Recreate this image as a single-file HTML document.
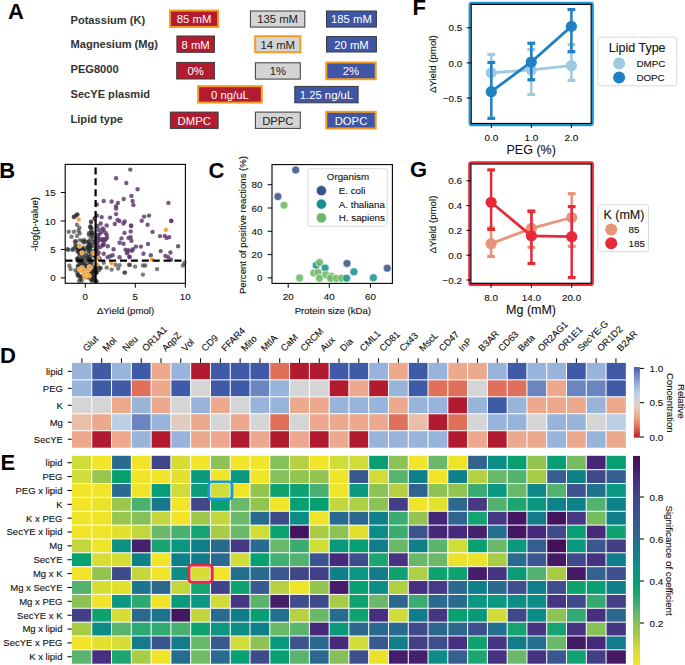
<!DOCTYPE html>
<html><head><meta charset="utf-8"><style>
html,body{margin:0;padding:0;background:#fff;width:685px;height:665px;overflow:hidden;}
svg{display:block;}
text{font-family:"Liberation Sans",sans-serif;}
</style></head><body>
<svg width="685" height="665" viewBox="0 0 685 665">
<rect width="685" height="665" fill="#fff"/>
<text x="7.90" y="18.80" font-size="22" text-anchor="start" font-weight="bold" fill="#000">A</text>
<text x="-0.70" y="177.70" font-size="22" text-anchor="start" font-weight="bold" fill="#000">B</text>
<text x="208.50" y="177.70" font-size="22" text-anchor="start" font-weight="bold" fill="#000">C</text>
<text x="0.00" y="363.30" font-size="22" text-anchor="start" font-weight="bold" fill="#000">D</text>
<text x="0.50" y="470.00" font-size="22" text-anchor="start" font-weight="bold" fill="#000">E</text>
<text x="412.50" y="15.30" font-size="22" text-anchor="start" font-weight="bold" fill="#000">F</text>
<text x="410.00" y="176.60" font-size="22" text-anchor="start" font-weight="bold" fill="#000">G</text>
<text x="70.50" y="24.20" font-size="11.1" text-anchor="start" font-weight="bold" fill="#333">Potassium (K)</text>
<text x="70.50" y="48.40" font-size="11.1" text-anchor="start" font-weight="bold" fill="#333">Magnesium (Mg)</text>
<text x="70.50" y="73.00" font-size="11.1" text-anchor="start" font-weight="bold" fill="#333">PEG8000</text>
<text x="70.50" y="97.90" font-size="11.1" text-anchor="start" font-weight="bold" fill="#333">SecYE plasmid</text>
<text x="70.50" y="123.10" font-size="11.1" text-anchor="start" font-weight="bold" fill="#333">Lipid type</text>
<rect x="170.00" y="10.60" width="48.10" height="16.40" fill="#b31b30" stroke="#f59b23" stroke-width="2"/>
<text x="194.05" y="23.20" font-size="11.3" text-anchor="middle" fill="#fff">85 mM</text>
<rect x="250.40" y="11.00" width="54.40" height="16.10" fill="#d4d4d4" stroke="#3a3a3a" stroke-width="1"/>
<text x="277.60" y="23.45" font-size="11.3" text-anchor="middle" fill="#222">135 mM</text>
<rect x="326.50" y="11.00" width="49.90" height="16.10" fill="#3f56a6" stroke="#3a3a3a" stroke-width="1"/>
<text x="351.45" y="23.45" font-size="11.3" text-anchor="middle" fill="#fff">185 mM</text>
<rect x="176.90" y="36.00" width="37.50" height="16.30" fill="#b31b30" stroke="#3a3a3a" stroke-width="1"/>
<text x="195.65" y="48.55" font-size="11.3" text-anchor="middle" fill="#fff">8 mM</text>
<rect x="255.20" y="36.20" width="45.10" height="16.00" fill="#d4d4d4" stroke="#f59b23" stroke-width="2"/>
<text x="277.75" y="48.60" font-size="11.3" text-anchor="middle" fill="#222">14 mM</text>
<rect x="326.50" y="36.60" width="49.90" height="15.40" fill="#3f56a6" stroke="#3a3a3a" stroke-width="1"/>
<text x="351.45" y="48.70" font-size="11.3" text-anchor="middle" fill="#fff">20 mM</text>
<rect x="176.70" y="62.40" width="37.70" height="16.60" fill="#b31b30" stroke="#3a3a3a" stroke-width="1"/>
<text x="195.55" y="75.10" font-size="11.3" text-anchor="middle" fill="#fff">0%</text>
<rect x="255.40" y="62.80" width="44.90" height="16.30" fill="#d4d4d4" stroke="#3a3a3a" stroke-width="1"/>
<text x="277.85" y="75.35" font-size="11.3" text-anchor="middle" fill="#222">1%</text>
<rect x="326.30" y="62.50" width="49.40" height="16.70" fill="#3f56a6" stroke="#f59b23" stroke-width="2"/>
<text x="351.00" y="75.25" font-size="11.3" text-anchor="middle" fill="#fff">2%</text>
<rect x="198.10" y="86.20" width="63.70" height="16.40" fill="#b31b30" stroke="#f59b23" stroke-width="2"/>
<text x="229.95" y="98.80" font-size="11.3" text-anchor="middle" fill="#fff">0 ng/uL</text>
<rect x="294.80" y="86.40" width="63.30" height="16.40" fill="#3f56a6" stroke="#3a3a3a" stroke-width="1"/>
<text x="326.45" y="99.00" font-size="11.3" text-anchor="middle" fill="#fff">1.25 ng/uL</text>
<rect x="170.30" y="112.10" width="47.80" height="16.30" fill="#b31b30" stroke="#3a3a3a" stroke-width="1"/>
<text x="194.20" y="124.65" font-size="11.3" text-anchor="middle" fill="#fff">DMPC</text>
<rect x="255.40" y="112.10" width="44.90" height="16.30" fill="#d4d4d4" stroke="#3a3a3a" stroke-width="1"/>
<text x="277.85" y="124.65" font-size="11.3" text-anchor="middle" fill="#222">DPPC</text>
<rect x="326.30" y="111.80" width="49.40" height="16.70" fill="#3f56a6" stroke="#f59b23" stroke-width="2"/>
<text x="351.00" y="124.55" font-size="11.3" text-anchor="middle" fill="#fff">DOPC</text>
<rect x="65.20" y="164.40" width="120.20" height="118.90" fill="none" stroke="#000" stroke-width="1.1"/>
<line x1="85.30" y1="283.30" x2="85.30" y2="287.70" stroke="#000" stroke-width="1"/>
<text x="85.30" y="299.90" font-size="9.8" text-anchor="middle" fill="#111111" stroke="#111111" stroke-width="0.12">0</text>
<line x1="135.30" y1="283.30" x2="135.30" y2="287.70" stroke="#000" stroke-width="1"/>
<text x="135.30" y="299.90" font-size="9.8" text-anchor="middle" fill="#111111" stroke="#111111" stroke-width="0.12">5</text>
<line x1="185.30" y1="283.30" x2="185.30" y2="287.70" stroke="#000" stroke-width="1"/>
<text x="185.30" y="299.90" font-size="9.8" text-anchor="middle" fill="#111111" stroke="#111111" stroke-width="0.12">10</text>
<line x1="60.80" y1="277.90" x2="65.20" y2="277.90" stroke="#000" stroke-width="1"/>
<text x="55.70" y="281.40" font-size="9.8" text-anchor="end" fill="#111111" stroke="#111111" stroke-width="0.12">0</text>
<line x1="60.80" y1="249.45" x2="65.20" y2="249.45" stroke="#000" stroke-width="1"/>
<text x="55.70" y="252.95" font-size="9.8" text-anchor="end" fill="#111111" stroke="#111111" stroke-width="0.12">5</text>
<line x1="60.80" y1="221.00" x2="65.20" y2="221.00" stroke="#000" stroke-width="1"/>
<text x="55.70" y="224.50" font-size="9.8" text-anchor="end" fill="#111111" stroke="#111111" stroke-width="0.12">10</text>
<line x1="60.80" y1="192.55" x2="65.20" y2="192.55" stroke="#000" stroke-width="1"/>
<text x="55.70" y="196.05" font-size="9.8" text-anchor="end" fill="#111111" stroke="#111111" stroke-width="0.12">15</text>
<text x="125.50" y="314.00" font-size="9.6" text-anchor="middle" fill="#111111" stroke="#111111" stroke-width="0.12">&#916;Yield (pmol)</text>
<text x="37.70" y="224.00" font-size="9.6" text-anchor="middle" fill="#111111" stroke="#111111" stroke-width="0.12" transform="rotate(-90 37.7 224)">-log(p-value)</text>
<g>
<circle cx="77.40" cy="214.50" r="2.2" fill="#262626" fill-opacity="0.6"/>
<circle cx="73.90" cy="216.70" r="2.2" fill="#262626" fill-opacity="0.6"/>
<circle cx="75.70" cy="215.70" r="2.2" fill="#262626" fill-opacity="0.6"/>
<circle cx="77.00" cy="224.80" r="2.2" fill="#262626" fill-opacity="0.6"/>
<circle cx="79.40" cy="227.80" r="2.2" fill="#262626" fill-opacity="0.6"/>
<circle cx="91.10" cy="221.70" r="2.2" fill="#262626" fill-opacity="0.6"/>
<circle cx="94.70" cy="218.40" r="2.2" fill="#262626" fill-opacity="0.6"/>
<circle cx="68.70" cy="231.80" r="2.2" fill="#262626" fill-opacity="0.6"/>
<circle cx="73.90" cy="231.80" r="2.2" fill="#262626" fill-opacity="0.6"/>
<circle cx="78.50" cy="230.80" r="2.2" fill="#262626" fill-opacity="0.6"/>
<circle cx="79.70" cy="233.20" r="2.2" fill="#262626" fill-opacity="0.6"/>
<circle cx="71.50" cy="236.80" r="2.2" fill="#262626" fill-opacity="0.6"/>
<circle cx="77.00" cy="235.90" r="2.2" fill="#262626" fill-opacity="0.6"/>
<circle cx="76.00" cy="241.30" r="2.2" fill="#262626" fill-opacity="0.6"/>
<circle cx="80.00" cy="240.10" r="2.2" fill="#262626" fill-opacity="0.6"/>
<circle cx="82.70" cy="241.30" r="2.2" fill="#262626" fill-opacity="0.6"/>
<circle cx="83.90" cy="242.50" r="2.2" fill="#262626" fill-opacity="0.6"/>
<circle cx="90.50" cy="226.30" r="2.2" fill="#262626" fill-opacity="0.6"/>
<circle cx="91.70" cy="228.70" r="2.2" fill="#262626" fill-opacity="0.6"/>
<circle cx="91.10" cy="231.10" r="2.2" fill="#262626" fill-opacity="0.6"/>
<circle cx="92.30" cy="233.50" r="2.2" fill="#262626" fill-opacity="0.6"/>
<circle cx="92.90" cy="235.90" r="2.2" fill="#262626" fill-opacity="0.6"/>
<circle cx="90.50" cy="238.90" r="2.2" fill="#262626" fill-opacity="0.6"/>
<circle cx="88.10" cy="241.90" r="2.2" fill="#262626" fill-opacity="0.6"/>
<circle cx="88.70" cy="244.90" r="2.2" fill="#262626" fill-opacity="0.6"/>
<circle cx="93.50" cy="238.90" r="2.2" fill="#262626" fill-opacity="0.6"/>
<circle cx="92.90" cy="241.90" r="2.2" fill="#262626" fill-opacity="0.6"/>
<circle cx="92.30" cy="246.10" r="2.2" fill="#262626" fill-opacity="0.6"/>
<circle cx="67.60" cy="249.20" r="2.2" fill="#262626" fill-opacity="0.6"/>
<circle cx="73.00" cy="249.20" r="2.2" fill="#262626" fill-opacity="0.6"/>
<circle cx="77.90" cy="248.60" r="2.2" fill="#262626" fill-opacity="0.6"/>
<circle cx="82.10" cy="248.60" r="2.2" fill="#262626" fill-opacity="0.6"/>
<circle cx="76.00" cy="246.10" r="2.2" fill="#262626" fill-opacity="0.6"/>
<circle cx="68.20" cy="249.80" r="2.2" fill="#262626" fill-opacity="0.6"/>
<circle cx="72.40" cy="249.80" r="2.2" fill="#262626" fill-opacity="0.6"/>
<circle cx="69.40" cy="265.80" r="2.2" fill="#262626" fill-opacity="0.6"/>
<circle cx="70.60" cy="269.10" r="2.2" fill="#262626" fill-opacity="0.6"/>
<circle cx="75.40" cy="270.30" r="2.2" fill="#262626" fill-opacity="0.6"/>
<circle cx="78.40" cy="275.10" r="2.2" fill="#262626" fill-opacity="0.6"/>
<circle cx="100.10" cy="267.90" r="2.2" fill="#262626" fill-opacity="0.6"/>
<circle cx="98.90" cy="270.30" r="2.2" fill="#262626" fill-opacity="0.6"/>
<circle cx="73.90" cy="217.10" r="2.2" fill="#262626" fill-opacity="0.6"/>
<circle cx="77.20" cy="214.60" r="2.2" fill="#262626" fill-opacity="0.6"/>
<circle cx="91.00" cy="222.00" r="2.2" fill="#262626" fill-opacity="0.6"/>
<circle cx="94.80" cy="218.60" r="2.2" fill="#262626" fill-opacity="0.6"/>
<circle cx="100.70" cy="268.10" r="2.2" fill="#262626" fill-opacity="0.6"/>
<circle cx="106.70" cy="267.60" r="2.2" fill="#262626" fill-opacity="0.6"/>
<circle cx="111.60" cy="269.60" r="2.2" fill="#262626" fill-opacity="0.6"/>
<circle cx="118.10" cy="268.60" r="2.2" fill="#262626" fill-opacity="0.6"/>
<circle cx="119.60" cy="265.20" r="2.2" fill="#262626" fill-opacity="0.6"/>
<circle cx="115.60" cy="264.70" r="2.2" fill="#262626" fill-opacity="0.6"/>
<circle cx="124.50" cy="272.60" r="2.2" fill="#262626" fill-opacity="0.6"/>
<circle cx="129.00" cy="264.70" r="2.2" fill="#262626" fill-opacity="0.6"/>
<circle cx="103.70" cy="262.70" r="2.2" fill="#262626" fill-opacity="0.6"/>
<circle cx="130.00" cy="264.90" r="2.2" fill="#262626" fill-opacity="0.6"/>
<circle cx="135.10" cy="266.60" r="2.2" fill="#262626" fill-opacity="0.6"/>
<circle cx="142.90" cy="265.50" r="2.2" fill="#262626" fill-opacity="0.6"/>
<circle cx="145.30" cy="265.50" r="2.2" fill="#262626" fill-opacity="0.6"/>
<circle cx="125.00" cy="272.60" r="2.2" fill="#262626" fill-opacity="0.6"/>
<circle cx="142.90" cy="274.60" r="2.2" fill="#262626" fill-opacity="0.6"/>
<circle cx="157.00" cy="269.10" r="2.2" fill="#262626" fill-opacity="0.6"/>
<circle cx="183.00" cy="265.50" r="2.2" fill="#262626" fill-opacity="0.6"/>
<circle cx="184.50" cy="262.70" r="2.2" fill="#262626" fill-opacity="0.6"/>
<circle cx="83.31" cy="250.53" r="2.2" fill="#262626" fill-opacity="0.6"/>
<circle cx="89.69" cy="248.17" r="2.2" fill="#262626" fill-opacity="0.6"/>
<circle cx="87.45" cy="256.97" r="2.2" fill="#262626" fill-opacity="0.6"/>
<circle cx="78.13" cy="261.22" r="2.2" fill="#262626" fill-opacity="0.6"/>
<circle cx="77.73" cy="259.01" r="2.2" fill="#262626" fill-opacity="0.6"/>
<circle cx="78.36" cy="248.72" r="2.2" fill="#262626" fill-opacity="0.6"/>
<circle cx="85.28" cy="270.81" r="2.2" fill="#262626" fill-opacity="0.6"/>
<circle cx="79.41" cy="252.70" r="2.2" fill="#262626" fill-opacity="0.6"/>
<circle cx="89.23" cy="274.43" r="2.2" fill="#262626" fill-opacity="0.6"/>
<circle cx="88.25" cy="257.90" r="2.2" fill="#262626" fill-opacity="0.6"/>
<circle cx="96.04" cy="247.40" r="2.2" fill="#262626" fill-opacity="0.6"/>
<circle cx="93.74" cy="254.69" r="2.2" fill="#262626" fill-opacity="0.6"/>
<circle cx="79.81" cy="249.53" r="2.2" fill="#262626" fill-opacity="0.6"/>
<circle cx="83.02" cy="270.48" r="2.2" fill="#262626" fill-opacity="0.6"/>
<circle cx="80.52" cy="263.45" r="2.2" fill="#262626" fill-opacity="0.6"/>
<circle cx="89.46" cy="257.17" r="2.2" fill="#262626" fill-opacity="0.6"/>
<circle cx="87.68" cy="247.88" r="2.2" fill="#262626" fill-opacity="0.6"/>
<circle cx="78.16" cy="252.18" r="2.2" fill="#262626" fill-opacity="0.6"/>
<circle cx="90.27" cy="258.83" r="2.2" fill="#262626" fill-opacity="0.6"/>
<circle cx="83.13" cy="263.57" r="2.2" fill="#262626" fill-opacity="0.6"/>
<circle cx="85.84" cy="254.99" r="2.2" fill="#262626" fill-opacity="0.6"/>
<circle cx="92.49" cy="266.97" r="2.2" fill="#262626" fill-opacity="0.6"/>
<circle cx="81.76" cy="263.23" r="2.2" fill="#262626" fill-opacity="0.6"/>
<circle cx="87.24" cy="272.25" r="2.2" fill="#262626" fill-opacity="0.6"/>
<circle cx="91.22" cy="254.64" r="2.2" fill="#262626" fill-opacity="0.6"/>
<circle cx="96.11" cy="249.54" r="2.2" fill="#262626" fill-opacity="0.6"/>
<circle cx="85.15" cy="268.71" r="2.2" fill="#262626" fill-opacity="0.6"/>
<circle cx="79.96" cy="260.67" r="2.2" fill="#262626" fill-opacity="0.6"/>
<circle cx="77.76" cy="266.05" r="2.2" fill="#262626" fill-opacity="0.6"/>
<circle cx="91.91" cy="263.19" r="2.2" fill="#262626" fill-opacity="0.6"/>
<circle cx="94.07" cy="255.41" r="2.2" fill="#262626" fill-opacity="0.6"/>
<circle cx="90.56" cy="263.83" r="2.2" fill="#262626" fill-opacity="0.6"/>
<circle cx="88.31" cy="259.69" r="2.2" fill="#262626" fill-opacity="0.6"/>
<circle cx="93.38" cy="274.34" r="2.2" fill="#262626" fill-opacity="0.6"/>
<circle cx="86.24" cy="265.92" r="2.2" fill="#262626" fill-opacity="0.6"/>
<circle cx="78.18" cy="267.04" r="2.2" fill="#262626" fill-opacity="0.6"/>
<circle cx="89.62" cy="275.79" r="2.2" fill="#262626" fill-opacity="0.6"/>
<circle cx="93.03" cy="254.54" r="2.2" fill="#262626" fill-opacity="0.6"/>
<circle cx="84.52" cy="266.06" r="2.2" fill="#262626" fill-opacity="0.6"/>
<circle cx="77.44" cy="259.85" r="2.2" fill="#262626" fill-opacity="0.6"/>
<circle cx="80.28" cy="249.51" r="2.2" fill="#262626" fill-opacity="0.6"/>
<circle cx="78.15" cy="269.05" r="2.2" fill="#262626" fill-opacity="0.6"/>
<circle cx="79.52" cy="253.43" r="2.2" fill="#262626" fill-opacity="0.6"/>
<circle cx="84.62" cy="272.14" r="2.2" fill="#262626" fill-opacity="0.6"/>
<circle cx="78.57" cy="259.48" r="2.2" fill="#262626" fill-opacity="0.6"/>
<circle cx="87.71" cy="272.50" r="2.2" fill="#262626" fill-opacity="0.6"/>
<circle cx="92.98" cy="271.92" r="2.2" fill="#262626" fill-opacity="0.6"/>
<circle cx="82.43" cy="258.46" r="2.2" fill="#262626" fill-opacity="0.6"/>
<circle cx="84.00" cy="272.53" r="2.2" fill="#262626" fill-opacity="0.6"/>
<circle cx="95.68" cy="250.53" r="2.2" fill="#262626" fill-opacity="0.6"/>
<circle cx="80.44" cy="252.96" r="2.2" fill="#262626" fill-opacity="0.6"/>
<circle cx="81.55" cy="260.55" r="2.2" fill="#262626" fill-opacity="0.6"/>
<circle cx="88.49" cy="253.88" r="2.2" fill="#262626" fill-opacity="0.6"/>
<circle cx="77.08" cy="258.57" r="2.2" fill="#262626" fill-opacity="0.6"/>
<circle cx="84.20" cy="262.99" r="2.2" fill="#262626" fill-opacity="0.6"/>
<circle cx="95.59" cy="266.71" r="2.2" fill="#262626" fill-opacity="0.6"/>
<circle cx="87.05" cy="264.53" r="2.2" fill="#262626" fill-opacity="0.6"/>
<circle cx="90.19" cy="247.62" r="2.2" fill="#262626" fill-opacity="0.6"/>
<circle cx="94.54" cy="269.40" r="2.2" fill="#262626" fill-opacity="0.6"/>
<circle cx="94.05" cy="269.94" r="2.2" fill="#262626" fill-opacity="0.6"/>
<circle cx="84.65" cy="257.97" r="2.2" fill="#262626" fill-opacity="0.6"/>
<circle cx="79.02" cy="265.03" r="2.2" fill="#262626" fill-opacity="0.6"/>
<circle cx="78.21" cy="248.02" r="2.2" fill="#262626" fill-opacity="0.6"/>
<circle cx="81.07" cy="250.87" r="2.2" fill="#262626" fill-opacity="0.6"/>
<circle cx="83.63" cy="247.58" r="2.2" fill="#262626" fill-opacity="0.6"/>
<circle cx="77.00" cy="250.54" r="2.2" fill="#262626" fill-opacity="0.6"/>
<circle cx="78.98" cy="256.91" r="2.2" fill="#262626" fill-opacity="0.6"/>
<circle cx="77.50" cy="272.23" r="2.2" fill="#262626" fill-opacity="0.6"/>
<circle cx="88.97" cy="250.46" r="2.2" fill="#262626" fill-opacity="0.6"/>
<circle cx="81.92" cy="256.42" r="2.2" fill="#262626" fill-opacity="0.6"/>
<circle cx="84.10" cy="249.69" r="2.2" fill="#262626" fill-opacity="0.6"/>
<circle cx="93.55" cy="275.79" r="2.2" fill="#262626" fill-opacity="0.6"/>
<circle cx="86.09" cy="260.52" r="2.2" fill="#262626" fill-opacity="0.6"/>
<circle cx="78.67" cy="249.07" r="2.2" fill="#262626" fill-opacity="0.6"/>
<circle cx="83.68" cy="253.94" r="2.2" fill="#262626" fill-opacity="0.6"/>
<circle cx="93.16" cy="250.84" r="2.2" fill="#262626" fill-opacity="0.6"/>
<circle cx="77.45" cy="274.53" r="2.2" fill="#262626" fill-opacity="0.6"/>
<circle cx="87.30" cy="250.40" r="2.2" fill="#262626" fill-opacity="0.6"/>
<circle cx="87.59" cy="246.81" r="2.2" fill="#262626" fill-opacity="0.6"/>
<circle cx="87.30" cy="275.36" r="2.2" fill="#262626" fill-opacity="0.6"/>
<circle cx="96.13" cy="267.42" r="2.2" fill="#262626" fill-opacity="0.6"/>
<circle cx="90.11" cy="251.60" r="2.2" fill="#262626" fill-opacity="0.6"/>
<circle cx="89.17" cy="271.05" r="2.2" fill="#262626" fill-opacity="0.6"/>
<circle cx="92.83" cy="271.39" r="2.2" fill="#262626" fill-opacity="0.6"/>
<circle cx="90.80" cy="244.71" r="2.2" fill="#262626" fill-opacity="0.6"/>
<circle cx="95.62" cy="281.28" r="2.2" fill="#262626" fill-opacity="0.6"/>
<circle cx="96.03" cy="272.69" r="2.2" fill="#262626" fill-opacity="0.6"/>
<circle cx="95.68" cy="269.51" r="2.2" fill="#262626" fill-opacity="0.6"/>
<circle cx="89.77" cy="258.85" r="2.2" fill="#262626" fill-opacity="0.6"/>
<circle cx="91.06" cy="235.39" r="2.2" fill="#262626" fill-opacity="0.6"/>
<circle cx="87.78" cy="247.41" r="2.2" fill="#262626" fill-opacity="0.6"/>
<circle cx="90.09" cy="267.24" r="2.2" fill="#262626" fill-opacity="0.6"/>
<circle cx="97.07" cy="255.47" r="2.2" fill="#262626" fill-opacity="0.6"/>
<circle cx="96.87" cy="281.43" r="2.2" fill="#262626" fill-opacity="0.6"/>
<circle cx="97.05" cy="251.50" r="2.2" fill="#262626" fill-opacity="0.6"/>
<circle cx="89.70" cy="244.89" r="2.2" fill="#262626" fill-opacity="0.6"/>
<circle cx="89.47" cy="243.81" r="2.2" fill="#262626" fill-opacity="0.6"/>
<circle cx="93.74" cy="277.21" r="2.2" fill="#262626" fill-opacity="0.6"/>
<circle cx="95.90" cy="257.01" r="2.2" fill="#262626" fill-opacity="0.6"/>
<circle cx="94.03" cy="272.38" r="2.2" fill="#262626" fill-opacity="0.6"/>
<circle cx="88.35" cy="265.71" r="2.2" fill="#262626" fill-opacity="0.6"/>
<circle cx="96.60" cy="271.55" r="2.2" fill="#262626" fill-opacity="0.6"/>
<circle cx="95.00" cy="256.95" r="2.2" fill="#262626" fill-opacity="0.6"/>
<circle cx="89.29" cy="271.88" r="2.2" fill="#262626" fill-opacity="0.6"/>
<circle cx="90.83" cy="272.44" r="2.2" fill="#262626" fill-opacity="0.6"/>
<circle cx="97.22" cy="253.00" r="2.2" fill="#262626" fill-opacity="0.6"/>
<circle cx="91.51" cy="279.45" r="2.2" fill="#262626" fill-opacity="0.6"/>
<circle cx="94.75" cy="242.16" r="2.2" fill="#262626" fill-opacity="0.6"/>
<circle cx="88.77" cy="241.26" r="2.2" fill="#262626" fill-opacity="0.6"/>
<circle cx="96.55" cy="272.71" r="2.2" fill="#262626" fill-opacity="0.6"/>
<circle cx="88.96" cy="273.67" r="2.2" fill="#262626" fill-opacity="0.6"/>
<circle cx="97.30" cy="265.55" r="2.2" fill="#262626" fill-opacity="0.6"/>
<circle cx="91.00" cy="260.34" r="2.2" fill="#262626" fill-opacity="0.6"/>
<circle cx="88.81" cy="234.68" r="2.2" fill="#262626" fill-opacity="0.6"/>
<circle cx="97.21" cy="265.18" r="2.2" fill="#262626" fill-opacity="0.6"/>
<circle cx="92.77" cy="278.81" r="2.2" fill="#262626" fill-opacity="0.6"/>
<circle cx="91.84" cy="275.84" r="2.2" fill="#262626" fill-opacity="0.6"/>
<circle cx="95.76" cy="244.13" r="2.2" fill="#262626" fill-opacity="0.6"/>
<circle cx="90.02" cy="248.06" r="2.2" fill="#262626" fill-opacity="0.6"/>
<circle cx="89.91" cy="262.15" r="2.2" fill="#262626" fill-opacity="0.6"/>
<circle cx="90.07" cy="227.03" r="2.2" fill="#262626" fill-opacity="0.6"/>
<circle cx="89.05" cy="232.92" r="2.2" fill="#262626" fill-opacity="0.6"/>
<circle cx="90.83" cy="227.50" r="2.2" fill="#262626" fill-opacity="0.6"/>
<circle cx="92.67" cy="232.85" r="2.2" fill="#262626" fill-opacity="0.6"/>
<circle cx="91.37" cy="233.01" r="2.2" fill="#262626" fill-opacity="0.6"/>
<circle cx="80.15" cy="247.70" r="2.2" fill="#262626" fill-opacity="0.6"/>
<circle cx="79.43" cy="245.47" r="2.2" fill="#262626" fill-opacity="0.6"/>
<circle cx="79.74" cy="251.18" r="2.2" fill="#262626" fill-opacity="0.6"/>
<circle cx="82.39" cy="250.27" r="2.2" fill="#262626" fill-opacity="0.6"/>
<circle cx="85.31" cy="241.63" r="2.2" fill="#262626" fill-opacity="0.6"/>
<circle cx="80.71" cy="251.21" r="2.2" fill="#262626" fill-opacity="0.6"/>
<circle cx="84.08" cy="239.92" r="2.2" fill="#262626" fill-opacity="0.6"/>
<circle cx="75.46" cy="244.19" r="2.2" fill="#262626" fill-opacity="0.6"/>
<circle cx="74.87" cy="241.37" r="2.2" fill="#262626" fill-opacity="0.6"/>
<circle cx="74.88" cy="247.37" r="2.2" fill="#262626" fill-opacity="0.6"/>
<circle cx="91.33" cy="280.28" r="2.2" fill="#262626" fill-opacity="0.6"/>
<circle cx="80.63" cy="279.01" r="2.2" fill="#262626" fill-opacity="0.6"/>
<circle cx="89.22" cy="275.00" r="2.2" fill="#262626" fill-opacity="0.6"/>
<circle cx="93.01" cy="280.77" r="2.2" fill="#262626" fill-opacity="0.6"/>
<circle cx="81.73" cy="280.67" r="2.2" fill="#262626" fill-opacity="0.6"/>
<circle cx="84.77" cy="277.41" r="2.2" fill="#262626" fill-opacity="0.6"/>
<circle cx="94.83" cy="279.83" r="2.2" fill="#262626" fill-opacity="0.6"/>
<circle cx="80.74" cy="277.02" r="2.2" fill="#262626" fill-opacity="0.6"/>
<circle cx="86.77" cy="276.37" r="2.2" fill="#262626" fill-opacity="0.6"/>
<circle cx="81.33" cy="276.23" r="2.2" fill="#262626" fill-opacity="0.6"/>
<circle cx="90.28" cy="274.14" r="2.2" fill="#262626" fill-opacity="0.6"/>
<circle cx="87.42" cy="277.08" r="2.2" fill="#262626" fill-opacity="0.6"/>
<circle cx="78.31" cy="276.32" r="2.2" fill="#262626" fill-opacity="0.6"/>
<circle cx="88.61" cy="277.59" r="2.2" fill="#262626" fill-opacity="0.6"/>
<circle cx="79.09" cy="280.90" r="2.2" fill="#262626" fill-opacity="0.6"/>
<circle cx="130.30" cy="169.60" r="2.2" fill="#5f3c6e" fill-opacity="0.85"/>
<circle cx="116.10" cy="178.20" r="2.2" fill="#5f3c6e" fill-opacity="0.85"/>
<circle cx="126.30" cy="183.00" r="2.2" fill="#5f3c6e" fill-opacity="0.85"/>
<circle cx="123.70" cy="199.00" r="2.2" fill="#5f3c6e" fill-opacity="0.85"/>
<circle cx="103.70" cy="201.00" r="2.2" fill="#5f3c6e" fill-opacity="0.85"/>
<circle cx="111.60" cy="201.50" r="2.2" fill="#5f3c6e" fill-opacity="0.85"/>
<circle cx="117.90" cy="202.90" r="2.2" fill="#5f3c6e" fill-opacity="0.85"/>
<circle cx="96.80" cy="204.40" r="2.2" fill="#5f3c6e" fill-opacity="0.85"/>
<circle cx="116.10" cy="206.20" r="2.2" fill="#5f3c6e" fill-opacity="0.85"/>
<circle cx="116.10" cy="208.60" r="2.2" fill="#5f3c6e" fill-opacity="0.85"/>
<circle cx="116.10" cy="214.10" r="2.2" fill="#5f3c6e" fill-opacity="0.85"/>
<circle cx="101.70" cy="217.10" r="2.2" fill="#5f3c6e" fill-opacity="0.85"/>
<circle cx="110.10" cy="217.60" r="2.2" fill="#5f3c6e" fill-opacity="0.85"/>
<circle cx="97.00" cy="215.60" r="2.2" fill="#5f3c6e" fill-opacity="0.85"/>
<circle cx="117.60" cy="220.00" r="2.2" fill="#5f3c6e" fill-opacity="0.85"/>
<circle cx="119.40" cy="221.00" r="2.2" fill="#5f3c6e" fill-opacity="0.85"/>
<circle cx="124.70" cy="221.50" r="2.2" fill="#5f3c6e" fill-opacity="0.85"/>
<circle cx="123.50" cy="223.50" r="2.2" fill="#5f3c6e" fill-opacity="0.85"/>
<circle cx="114.80" cy="224.00" r="2.2" fill="#5f3c6e" fill-opacity="0.85"/>
<circle cx="100.70" cy="223.50" r="2.2" fill="#5f3c6e" fill-opacity="0.85"/>
<circle cx="106.70" cy="225.50" r="2.2" fill="#5f3c6e" fill-opacity="0.85"/>
<circle cx="137.60" cy="189.30" r="2.2" fill="#5f3c6e" fill-opacity="0.85"/>
<circle cx="131.40" cy="195.90" r="2.2" fill="#5f3c6e" fill-opacity="0.85"/>
<circle cx="132.60" cy="201.00" r="2.2" fill="#5f3c6e" fill-opacity="0.85"/>
<circle cx="133.40" cy="205.00" r="2.2" fill="#5f3c6e" fill-opacity="0.85"/>
<circle cx="168.40" cy="202.90" r="2.2" fill="#5f3c6e" fill-opacity="0.85"/>
<circle cx="144.10" cy="216.60" r="2.2" fill="#5f3c6e" fill-opacity="0.85"/>
<circle cx="149.00" cy="215.60" r="2.2" fill="#5f3c6e" fill-opacity="0.85"/>
<circle cx="141.70" cy="220.80" r="2.2" fill="#5f3c6e" fill-opacity="0.85"/>
<circle cx="171.30" cy="220.70" r="2.2" fill="#5f3c6e" fill-opacity="0.85"/>
<circle cx="131.10" cy="225.50" r="2.2" fill="#5f3c6e" fill-opacity="0.85"/>
<circle cx="147.60" cy="224.70" r="2.2" fill="#5f3c6e" fill-opacity="0.85"/>
<circle cx="98.70" cy="229.90" r="2.2" fill="#5f3c6e" fill-opacity="0.85"/>
<circle cx="103.70" cy="229.90" r="2.2" fill="#5f3c6e" fill-opacity="0.85"/>
<circle cx="105.70" cy="232.90" r="2.2" fill="#5f3c6e" fill-opacity="0.85"/>
<circle cx="106.70" cy="234.90" r="2.2" fill="#5f3c6e" fill-opacity="0.85"/>
<circle cx="98.20" cy="234.90" r="2.2" fill="#5f3c6e" fill-opacity="0.85"/>
<circle cx="101.70" cy="239.80" r="2.2" fill="#5f3c6e" fill-opacity="0.85"/>
<circle cx="97.70" cy="242.80" r="2.2" fill="#5f3c6e" fill-opacity="0.85"/>
<circle cx="103.70" cy="243.80" r="2.2" fill="#5f3c6e" fill-opacity="0.85"/>
<circle cx="100.70" cy="246.80" r="2.2" fill="#5f3c6e" fill-opacity="0.85"/>
<circle cx="107.70" cy="246.30" r="2.2" fill="#5f3c6e" fill-opacity="0.85"/>
<circle cx="113.60" cy="249.30" r="2.2" fill="#5f3c6e" fill-opacity="0.85"/>
<circle cx="98.70" cy="252.80" r="2.2" fill="#5f3c6e" fill-opacity="0.85"/>
<circle cx="103.70" cy="253.70" r="2.2" fill="#5f3c6e" fill-opacity="0.85"/>
<circle cx="107.70" cy="257.20" r="2.2" fill="#5f3c6e" fill-opacity="0.85"/>
<circle cx="110.10" cy="256.20" r="2.2" fill="#5f3c6e" fill-opacity="0.85"/>
<circle cx="112.60" cy="255.20" r="2.2" fill="#5f3c6e" fill-opacity="0.85"/>
<circle cx="119.60" cy="257.20" r="2.2" fill="#5f3c6e" fill-opacity="0.85"/>
<circle cx="121.50" cy="238.40" r="2.2" fill="#5f3c6e" fill-opacity="0.85"/>
<circle cx="119.60" cy="242.80" r="2.2" fill="#5f3c6e" fill-opacity="0.85"/>
<circle cx="123.50" cy="243.80" r="2.2" fill="#5f3c6e" fill-opacity="0.85"/>
<circle cx="124.50" cy="232.90" r="2.2" fill="#5f3c6e" fill-opacity="0.85"/>
<circle cx="125.50" cy="249.80" r="2.2" fill="#5f3c6e" fill-opacity="0.85"/>
<circle cx="127.50" cy="251.80" r="2.2" fill="#5f3c6e" fill-opacity="0.85"/>
<circle cx="129.50" cy="256.70" r="2.2" fill="#5f3c6e" fill-opacity="0.85"/>
<circle cx="128.50" cy="237.90" r="2.2" fill="#5f3c6e" fill-opacity="0.85"/>
<circle cx="171.10" cy="221.00" r="2.2" fill="#5f3c6e" fill-opacity="0.85"/>
<circle cx="131.10" cy="226.00" r="2.2" fill="#5f3c6e" fill-opacity="0.85"/>
<circle cx="130.70" cy="231.40" r="2.2" fill="#5f3c6e" fill-opacity="0.85"/>
<circle cx="152.60" cy="231.90" r="2.2" fill="#5f3c6e" fill-opacity="0.85"/>
<circle cx="160.00" cy="236.10" r="2.2" fill="#5f3c6e" fill-opacity="0.85"/>
<circle cx="164.70" cy="235.90" r="2.2" fill="#5f3c6e" fill-opacity="0.85"/>
<circle cx="166.70" cy="237.90" r="2.2" fill="#5f3c6e" fill-opacity="0.85"/>
<circle cx="169.20" cy="237.10" r="2.2" fill="#5f3c6e" fill-opacity="0.85"/>
<circle cx="130.70" cy="237.10" r="2.2" fill="#5f3c6e" fill-opacity="0.85"/>
<circle cx="131.40" cy="240.80" r="2.2" fill="#5f3c6e" fill-opacity="0.85"/>
<circle cx="148.00" cy="244.00" r="2.2" fill="#5f3c6e" fill-opacity="0.85"/>
<circle cx="178.10" cy="246.20" r="2.2" fill="#5f3c6e" fill-opacity="0.85"/>
<circle cx="135.90" cy="246.60" r="2.2" fill="#5f3c6e" fill-opacity="0.85"/>
<circle cx="140.90" cy="246.60" r="2.2" fill="#5f3c6e" fill-opacity="0.85"/>
<circle cx="132.90" cy="249.30" r="2.2" fill="#5f3c6e" fill-opacity="0.85"/>
<circle cx="128.50" cy="250.30" r="2.2" fill="#5f3c6e" fill-opacity="0.85"/>
<circle cx="131.90" cy="250.80" r="2.2" fill="#5f3c6e" fill-opacity="0.85"/>
<circle cx="127.00" cy="253.20" r="2.2" fill="#5f3c6e" fill-opacity="0.85"/>
<circle cx="143.40" cy="253.70" r="2.2" fill="#5f3c6e" fill-opacity="0.85"/>
<circle cx="160.70" cy="251.10" r="2.2" fill="#5f3c6e" fill-opacity="0.85"/>
<circle cx="170.40" cy="252.50" r="2.2" fill="#5f3c6e" fill-opacity="0.85"/>
<circle cx="150.80" cy="255.20" r="2.2" fill="#5f3c6e" fill-opacity="0.85"/>
<circle cx="129.50" cy="257.00" r="2.2" fill="#5f3c6e" fill-opacity="0.85"/>
<circle cx="165.50" cy="255.90" r="2.2" fill="#5f3c6e" fill-opacity="0.85"/>
<circle cx="168.20" cy="257.20" r="2.2" fill="#5f3c6e" fill-opacity="0.85"/>
<circle cx="171.10" cy="259.70" r="2.2" fill="#5f3c6e" fill-opacity="0.85"/>
<circle cx="97.50" cy="226.00" r="2.2" fill="#5f3c6e" fill-opacity="0.85"/>
<circle cx="97.50" cy="238.00" r="2.2" fill="#5f3c6e" fill-opacity="0.85"/>
<circle cx="97.80" cy="248.00" r="2.2" fill="#5f3c6e" fill-opacity="0.85"/>
<circle cx="97.60" cy="256.50" r="2.2" fill="#5f3c6e" fill-opacity="0.85"/>
<circle cx="99.50" cy="258.50" r="2.2" fill="#5f3c6e" fill-opacity="0.85"/>
<circle cx="102.42" cy="239.70" r="2.2" fill="#5f3c6e" fill-opacity="0.85"/>
<circle cx="102.66" cy="228.41" r="2.2" fill="#5f3c6e" fill-opacity="0.85"/>
<circle cx="101.73" cy="232.03" r="2.2" fill="#5f3c6e" fill-opacity="0.85"/>
<circle cx="96.84" cy="245.58" r="2.2" fill="#5f3c6e" fill-opacity="0.85"/>
<circle cx="98.73" cy="238.42" r="2.2" fill="#5f3c6e" fill-opacity="0.85"/>
<circle cx="104.92" cy="240.24" r="2.2" fill="#5f3c6e" fill-opacity="0.85"/>
<circle cx="100.45" cy="239.40" r="2.2" fill="#5f3c6e" fill-opacity="0.85"/>
<circle cx="103.02" cy="245.25" r="2.2" fill="#5f3c6e" fill-opacity="0.85"/>
<circle cx="97.99" cy="240.33" r="2.2" fill="#5f3c6e" fill-opacity="0.85"/>
<circle cx="99.58" cy="234.09" r="2.2" fill="#5f3c6e" fill-opacity="0.85"/>
<circle cx="105.45" cy="239.17" r="2.2" fill="#5f3c6e" fill-opacity="0.85"/>
<circle cx="103.09" cy="244.72" r="2.2" fill="#5f3c6e" fill-opacity="0.85"/>
<circle cx="107.02" cy="237.75" r="2.2" fill="#5f3c6e" fill-opacity="0.85"/>
<circle cx="103.66" cy="239.12" r="2.2" fill="#5f3c6e" fill-opacity="0.85"/>
<circle cx="78.80" cy="219.50" r="2.3" fill="#f5a030" stroke="#fff" stroke-width="0.35"/>
<circle cx="79.50" cy="246.20" r="2.3" fill="#f5a030" stroke="#fff" stroke-width="0.35"/>
<circle cx="81.90" cy="252.80" r="2.3" fill="#f5a030" stroke="#fff" stroke-width="0.35"/>
<circle cx="93.50" cy="253.40" r="2.3" fill="#f5a030" stroke="#fff" stroke-width="0.35"/>
<circle cx="97.70" cy="258.50" r="2.3" fill="#f5a030" stroke="#fff" stroke-width="0.35"/>
<circle cx="96.80" cy="264.30" r="2.3" fill="#f5a030" stroke="#fff" stroke-width="0.35"/>
<circle cx="79.00" cy="269.10" r="2.3" fill="#f5a030" stroke="#fff" stroke-width="0.35"/>
<circle cx="81.50" cy="270.90" r="2.3" fill="#f5a030" stroke="#fff" stroke-width="0.35"/>
<circle cx="82.10" cy="267.90" r="2.3" fill="#f5a030" stroke="#fff" stroke-width="0.35"/>
<circle cx="83.90" cy="270.30" r="2.3" fill="#f5a030" stroke="#fff" stroke-width="0.35"/>
<circle cx="89.30" cy="266.70" r="2.3" fill="#f5a030" stroke="#fff" stroke-width="0.35"/>
<circle cx="88.70" cy="269.70" r="2.3" fill="#f5a030" stroke="#fff" stroke-width="0.35"/>
<circle cx="86.90" cy="273.30" r="2.3" fill="#f5a030" stroke="#fff" stroke-width="0.35"/>
<circle cx="84.50" cy="274.50" r="2.3" fill="#f5a030" stroke="#fff" stroke-width="0.35"/>
<circle cx="89.30" cy="275.70" r="2.3" fill="#f5a030" stroke="#fff" stroke-width="0.35"/>
<circle cx="85.10" cy="277.50" r="2.3" fill="#f5a030" stroke="#fff" stroke-width="0.35"/>
<circle cx="90.50" cy="267.30" r="2.3" fill="#f5a030" stroke="#fff" stroke-width="0.35"/>
<circle cx="111.60" cy="263.20" r="2.3" fill="#f5a030" stroke="#fff" stroke-width="0.35"/>
<circle cx="165.90" cy="229.90" r="2.3" fill="#f5a030" stroke="#fff" stroke-width="0.35"/>
<circle cx="152.00" cy="259.50" r="2.3" fill="#f5a030" stroke="#fff" stroke-width="0.35"/>
</g>
<line x1="95.60" y1="167.40" x2="95.60" y2="219.00" stroke="#000" stroke-width="2.2" stroke-dasharray="7 3.9"/>
<line x1="95.60" y1="219.00" x2="95.60" y2="283.20" stroke="#000" stroke-width="2.2"/>
<line x1="65.50" y1="260.70" x2="185.70" y2="260.70" stroke="#000" stroke-width="2.2" stroke-dasharray="7 3.9"/>
<line x1="288.20" y1="283.40" x2="288.20" y2="287.80" stroke="#000" stroke-width="1"/>
<text x="288.20" y="299.80" font-size="9.8" text-anchor="middle" fill="#111111" stroke="#111111" stroke-width="0.12">20</text>
<line x1="329.30" y1="283.40" x2="329.30" y2="287.80" stroke="#000" stroke-width="1"/>
<text x="329.30" y="299.80" font-size="9.8" text-anchor="middle" fill="#111111" stroke="#111111" stroke-width="0.12">40</text>
<line x1="370.40" y1="283.40" x2="370.40" y2="287.80" stroke="#000" stroke-width="1"/>
<text x="370.40" y="299.80" font-size="9.8" text-anchor="middle" fill="#111111" stroke="#111111" stroke-width="0.12">60</text>
<line x1="267.60" y1="277.90" x2="272.00" y2="277.90" stroke="#000" stroke-width="1"/>
<text x="262.50" y="281.40" font-size="9.8" text-anchor="end" fill="#111111" stroke="#111111" stroke-width="0.12">0</text>
<line x1="267.60" y1="254.60" x2="272.00" y2="254.60" stroke="#000" stroke-width="1"/>
<text x="262.50" y="258.10" font-size="9.8" text-anchor="end" fill="#111111" stroke="#111111" stroke-width="0.12">20</text>
<line x1="267.60" y1="231.30" x2="272.00" y2="231.30" stroke="#000" stroke-width="1"/>
<text x="262.50" y="234.80" font-size="9.8" text-anchor="end" fill="#111111" stroke="#111111" stroke-width="0.12">40</text>
<line x1="267.60" y1="208.00" x2="272.00" y2="208.00" stroke="#000" stroke-width="1"/>
<text x="262.50" y="211.50" font-size="9.8" text-anchor="end" fill="#111111" stroke="#111111" stroke-width="0.12">60</text>
<line x1="267.60" y1="184.70" x2="272.00" y2="184.70" stroke="#000" stroke-width="1"/>
<text x="262.50" y="188.20" font-size="9.8" text-anchor="end" fill="#111111" stroke="#111111" stroke-width="0.12">80</text>
<text x="332.80" y="314.00" font-size="9.6" text-anchor="middle" fill="#111111" stroke="#111111" stroke-width="0.12">Protein size (kDa)</text>
<text x="245.50" y="225.00" font-size="9.6" text-anchor="middle" fill="#111111" stroke="#111111" stroke-width="0.12" transform="rotate(-90 245.5 225.0)">Percent of positive reactions (%)</text>
<circle cx="295.70" cy="169.90" r="4.0" fill="#3a538a" fill-opacity="0.88" stroke="#fff" stroke-width="0.6"/>
<circle cx="277.90" cy="196.60" r="4.0" fill="#3a538a" fill-opacity="0.88" stroke="#fff" stroke-width="0.6"/>
<circle cx="284.00" cy="205.20" r="4.0" fill="#6db864" fill-opacity="0.88" stroke="#fff" stroke-width="0.6"/>
<circle cx="299.60" cy="277.90" r="4.0" fill="#6db864" fill-opacity="0.88" stroke="#fff" stroke-width="0.6"/>
<circle cx="316.30" cy="265.20" r="4.0" fill="#19918c" fill-opacity="0.88" stroke="#fff" stroke-width="0.6"/>
<circle cx="319.50" cy="262.50" r="4.0" fill="#6db864" fill-opacity="0.88" stroke="#fff" stroke-width="0.6"/>
<circle cx="325.10" cy="268.10" r="4.0" fill="#19918c" fill-opacity="0.88" stroke="#fff" stroke-width="0.6"/>
<circle cx="313.80" cy="273.10" r="4.0" fill="#6db864" fill-opacity="0.88" stroke="#fff" stroke-width="0.6"/>
<circle cx="318.10" cy="272.50" r="4.0" fill="#6db864" fill-opacity="0.88" stroke="#fff" stroke-width="0.6"/>
<circle cx="325.80" cy="274.70" r="4.0" fill="#6db864" fill-opacity="0.88" stroke="#fff" stroke-width="0.6"/>
<circle cx="319.40" cy="278.20" r="4.0" fill="#6db864" fill-opacity="0.88" stroke="#fff" stroke-width="0.6"/>
<circle cx="331.30" cy="276.20" r="4.0" fill="#6db864" fill-opacity="0.88" stroke="#fff" stroke-width="0.6"/>
<circle cx="330.50" cy="278.40" r="4.0" fill="#6db864" fill-opacity="0.88" stroke="#fff" stroke-width="0.6"/>
<circle cx="336.40" cy="278.40" r="4.0" fill="#6db864" fill-opacity="0.88" stroke="#fff" stroke-width="0.6"/>
<circle cx="341.50" cy="278.20" r="4.0" fill="#6db864" fill-opacity="0.88" stroke="#fff" stroke-width="0.6"/>
<circle cx="346.60" cy="278.20" r="4.0" fill="#19918c" fill-opacity="0.88" stroke="#fff" stroke-width="0.6"/>
<circle cx="347.00" cy="263.40" r="4.0" fill="#3a538a" fill-opacity="0.88" stroke="#fff" stroke-width="0.6"/>
<circle cx="353.90" cy="271.80" r="4.0" fill="#19918c" fill-opacity="0.88" stroke="#fff" stroke-width="0.6"/>
<circle cx="373.40" cy="277.70" r="4.0" fill="#19918c" fill-opacity="0.88" stroke="#fff" stroke-width="0.6"/>
<circle cx="387.20" cy="268.20" r="4.0" fill="#3a538a" fill-opacity="0.88" stroke="#fff" stroke-width="0.6"/>
<rect x="272.00" y="164.60" width="120.40" height="118.80" fill="none" stroke="#000" stroke-width="1.1"/>
<rect x="307.9" y="168.7" width="79.3" height="57.5" rx="2" fill="#fff" fill-opacity="0.8" stroke="#d0d0d0" stroke-width="0.8"/>
<text x="348.00" y="180.40" font-size="9.75" text-anchor="middle" fill="#111111" stroke="#111111" stroke-width="0.12">Organism</text>
<circle cx="321.40" cy="190.70" r="5.1" fill="#3a538a" stroke="#fff" stroke-width="0.6"/>
<text x="338.80" y="194.20" font-size="9.75" text-anchor="start" fill="#111111" stroke="#111111" stroke-width="0.12">E. coli</text>
<circle cx="321.40" cy="204.20" r="5.1" fill="#19918c" stroke="#fff" stroke-width="0.6"/>
<text x="338.80" y="207.70" font-size="9.75" text-anchor="start" fill="#111111" stroke="#111111" stroke-width="0.12">A. thaliana</text>
<circle cx="321.40" cy="217.90" r="5.1" fill="#6db864" stroke="#fff" stroke-width="0.6"/>
<text x="338.80" y="221.40" font-size="9.75" text-anchor="start" fill="#111111" stroke="#111111" stroke-width="0.12">H. sapiens</text>
<rect x="469.60" y="2.80" width="123.20" height="122.30" rx="2" fill="none" stroke="#1a9bd7" stroke-width="2.2"/>
<path d="M491.30,72.73 L531.30,69.92 L571.40,65.71" fill="none" stroke="#9ecae1" stroke-width="2.8" stroke-linejoin="round"/>
<line x1="491.30" y1="54.48" x2="491.30" y2="90.98" stroke="#9ecae1" stroke-width="2.5"/>
<line x1="487.40" y1="54.48" x2="495.20" y2="54.48" stroke="#9ecae1" stroke-width="3.2"/>
<line x1="487.40" y1="90.98" x2="495.20" y2="90.98" stroke="#9ecae1" stroke-width="3.2"/>
<line x1="531.30" y1="49.56" x2="531.30" y2="94.49" stroke="#9ecae1" stroke-width="2.5"/>
<line x1="527.40" y1="49.56" x2="535.20" y2="49.56" stroke="#9ecae1" stroke-width="3.2"/>
<line x1="527.40" y1="94.49" x2="535.20" y2="94.49" stroke="#9ecae1" stroke-width="3.2"/>
<line x1="571.40" y1="44.65" x2="571.40" y2="80.45" stroke="#9ecae1" stroke-width="2.5"/>
<line x1="567.50" y1="44.65" x2="575.30" y2="44.65" stroke="#9ecae1" stroke-width="3.2"/>
<line x1="567.50" y1="80.45" x2="575.30" y2="80.45" stroke="#9ecae1" stroke-width="3.2"/>
<circle cx="491.30" cy="72.73" r="5.6" fill="#9ecae1"/>
<circle cx="531.30" cy="69.92" r="5.6" fill="#9ecae1"/>
<circle cx="571.40" cy="65.71" r="5.6" fill="#9ecae1"/>
<path d="M491.30,91.68 L531.30,61.99 L571.40,26.40" fill="none" stroke="#2080c4" stroke-width="2.8" stroke-linejoin="round"/>
<line x1="491.30" y1="62.48" x2="491.30" y2="118.36" stroke="#2080c4" stroke-width="2.5"/>
<line x1="487.40" y1="62.48" x2="495.20" y2="62.48" stroke="#2080c4" stroke-width="3.2"/>
<line x1="487.40" y1="118.36" x2="495.20" y2="118.36" stroke="#2080c4" stroke-width="3.2"/>
<line x1="531.30" y1="43.24" x2="531.30" y2="79.75" stroke="#2080c4" stroke-width="2.5"/>
<line x1="527.40" y1="43.24" x2="535.20" y2="43.24" stroke="#2080c4" stroke-width="3.2"/>
<line x1="527.40" y1="79.75" x2="535.20" y2="79.75" stroke="#2080c4" stroke-width="3.2"/>
<line x1="571.40" y1="9.55" x2="571.40" y2="51.67" stroke="#2080c4" stroke-width="2.5"/>
<line x1="567.50" y1="9.55" x2="575.30" y2="9.55" stroke="#2080c4" stroke-width="3.2"/>
<line x1="567.50" y1="51.67" x2="575.30" y2="51.67" stroke="#2080c4" stroke-width="3.2"/>
<circle cx="491.30" cy="91.68" r="5.6" fill="#2080c4"/>
<circle cx="531.30" cy="61.99" r="5.6" fill="#2080c4"/>
<circle cx="571.40" cy="26.40" r="5.6" fill="#2080c4"/>
<rect x="471.20" y="4.40" width="120.00" height="119.10" fill="none" stroke="#000" stroke-width="1.2"/>
<line x1="491.30" y1="123.50" x2="491.30" y2="128.00" stroke="#000" stroke-width="1"/>
<text x="491.30" y="140.70" font-size="9.9" text-anchor="middle" fill="#111111" stroke="#111111" stroke-width="0.12">0.0</text>
<line x1="531.30" y1="123.50" x2="531.30" y2="128.00" stroke="#000" stroke-width="1"/>
<text x="531.30" y="140.70" font-size="9.9" text-anchor="middle" fill="#111111" stroke="#111111" stroke-width="0.12">1.0</text>
<line x1="571.40" y1="123.50" x2="571.40" y2="128.00" stroke="#000" stroke-width="1"/>
<text x="571.40" y="140.70" font-size="9.9" text-anchor="middle" fill="#111111" stroke="#111111" stroke-width="0.12">2.0</text>
<text x="531.20" y="154.00" font-size="12.5" text-anchor="middle" fill="#111111" stroke="#111111" stroke-width="0.12">PEG (%)</text>
<line x1="466.70" y1="27.80" x2="471.20" y2="27.80" stroke="#000" stroke-width="1"/>
<text x="462.20" y="31.40" font-size="9.9" text-anchor="end" fill="#111111" stroke="#111111" stroke-width="0.12">0.5</text>
<line x1="466.70" y1="62.90" x2="471.20" y2="62.90" stroke="#000" stroke-width="1"/>
<text x="462.20" y="66.50" font-size="9.9" text-anchor="end" fill="#111111" stroke="#111111" stroke-width="0.12">0.0</text>
<line x1="466.70" y1="98.00" x2="471.20" y2="98.00" stroke="#000" stroke-width="1"/>
<text x="462.20" y="101.60" font-size="9.9" text-anchor="end" fill="#111111" stroke="#111111" stroke-width="0.12">&#8722;0.5</text>
<rect x="597.90" y="37.20" width="78.80" height="48.60" rx="2" fill="#fff" stroke="#d0d0d0" stroke-width="0.8"/>
<text x="637.20" y="51.90" font-size="12.5" text-anchor="middle" fill="#111111" stroke="#111111" stroke-width="0.12">Lipid Type</text>
<circle cx="619.10" cy="63.60" r="6.0" fill="#9ecae1"/>
<text x="636.40" y="67.20" font-size="9.8" text-anchor="start" fill="#111111" stroke="#111111" stroke-width="0.12">DMPC</text>
<circle cx="619.10" cy="77.40" r="6.0" fill="#2080c4"/>
<text x="636.40" y="81.00" font-size="9.8" text-anchor="start" fill="#111111" stroke="#111111" stroke-width="0.12">DOPC</text>
<text x="435.80" y="64.20" font-size="9.7" text-anchor="middle" fill="#111111" stroke="#111111" stroke-width="0.12" transform="rotate(-90 435.8 64.2)">&#916;Yield (pmol)</text>
<rect x="469.30" y="162.40" width="123.50" height="122.50" rx="2" fill="none" stroke="#e8293a" stroke-width="2.2"/>
<path d="M491.10,243.67 L531.40,228.42 L571.70,217.50" fill="none" stroke="#e9937a" stroke-width="2.8" stroke-linejoin="round"/>
<line x1="491.10" y1="227.92" x2="491.10" y2="256.44" stroke="#e9937a" stroke-width="2.5"/>
<line x1="487.20" y1="227.92" x2="495.00" y2="227.92" stroke="#e9937a" stroke-width="3.2"/>
<line x1="487.20" y1="256.44" x2="495.00" y2="256.44" stroke="#e9937a" stroke-width="3.2"/>
<line x1="531.40" y1="210.56" x2="531.40" y2="247.26" stroke="#e9937a" stroke-width="2.5"/>
<line x1="527.50" y1="210.56" x2="535.30" y2="210.56" stroke="#e9937a" stroke-width="3.2"/>
<line x1="527.50" y1="247.26" x2="535.30" y2="247.26" stroke="#e9937a" stroke-width="3.2"/>
<line x1="571.70" y1="193.70" x2="571.70" y2="246.27" stroke="#e9937a" stroke-width="2.5"/>
<line x1="567.80" y1="193.70" x2="575.60" y2="193.70" stroke="#e9937a" stroke-width="3.2"/>
<line x1="567.80" y1="246.27" x2="575.60" y2="246.27" stroke="#e9937a" stroke-width="3.2"/>
<circle cx="491.10" cy="243.67" r="5.6" fill="#e9937a"/>
<circle cx="531.40" cy="228.42" r="5.6" fill="#e9937a"/>
<circle cx="571.70" cy="217.50" r="5.6" fill="#e9937a"/>
<path d="M491.10,202.25 L531.40,235.86 L571.70,236.72" fill="none" stroke="#e8293a" stroke-width="2.8" stroke-linejoin="round"/>
<line x1="491.10" y1="169.89" x2="491.10" y2="229.41" stroke="#e8293a" stroke-width="2.5"/>
<line x1="487.20" y1="169.89" x2="495.00" y2="169.89" stroke="#e8293a" stroke-width="3.2"/>
<line x1="487.20" y1="229.41" x2="495.00" y2="229.41" stroke="#e8293a" stroke-width="3.2"/>
<line x1="531.40" y1="211.55" x2="531.40" y2="263.51" stroke="#e8293a" stroke-width="2.5"/>
<line x1="527.50" y1="211.55" x2="535.30" y2="211.55" stroke="#e8293a" stroke-width="3.2"/>
<line x1="527.50" y1="263.51" x2="535.30" y2="263.51" stroke="#e8293a" stroke-width="3.2"/>
<line x1="571.70" y1="206.59" x2="571.70" y2="277.52" stroke="#e8293a" stroke-width="2.5"/>
<line x1="567.80" y1="206.59" x2="575.60" y2="206.59" stroke="#e8293a" stroke-width="3.2"/>
<line x1="567.80" y1="277.52" x2="575.60" y2="277.52" stroke="#e8293a" stroke-width="3.2"/>
<circle cx="491.10" cy="202.25" r="5.6" fill="#e8293a"/>
<circle cx="531.40" cy="235.86" r="5.6" fill="#e8293a"/>
<circle cx="571.70" cy="236.72" r="5.6" fill="#e8293a"/>
<rect x="470.90" y="164.00" width="120.30" height="119.30" fill="none" stroke="#000" stroke-width="1.2"/>
<line x1="491.10" y1="283.30" x2="491.10" y2="287.80" stroke="#000" stroke-width="1"/>
<text x="491.10" y="300.50" font-size="9.9" text-anchor="middle" fill="#111111" stroke="#111111" stroke-width="0.12">8.0</text>
<line x1="531.40" y1="283.30" x2="531.40" y2="287.80" stroke="#000" stroke-width="1"/>
<text x="531.40" y="300.50" font-size="9.9" text-anchor="middle" fill="#111111" stroke="#111111" stroke-width="0.12">14.0</text>
<line x1="571.70" y1="283.30" x2="571.70" y2="287.80" stroke="#000" stroke-width="1"/>
<text x="571.70" y="300.50" font-size="9.9" text-anchor="middle" fill="#111111" stroke="#111111" stroke-width="0.12">20.0</text>
<text x="531.05" y="313.80" font-size="12.5" text-anchor="middle" fill="#111111" stroke="#111111" stroke-width="0.12">Mg (mM)</text>
<line x1="466.40" y1="180.80" x2="470.90" y2="180.80" stroke="#000" stroke-width="1"/>
<text x="461.90" y="184.40" font-size="9.9" text-anchor="end" fill="#111111" stroke="#111111" stroke-width="0.12">0.6</text>
<line x1="466.40" y1="205.60" x2="470.90" y2="205.60" stroke="#000" stroke-width="1"/>
<text x="461.90" y="209.20" font-size="9.9" text-anchor="end" fill="#111111" stroke="#111111" stroke-width="0.12">0.4</text>
<line x1="466.40" y1="230.40" x2="470.90" y2="230.40" stroke="#000" stroke-width="1"/>
<text x="461.90" y="234.00" font-size="9.9" text-anchor="end" fill="#111111" stroke="#111111" stroke-width="0.12">0.2</text>
<line x1="466.40" y1="255.20" x2="470.90" y2="255.20" stroke="#000" stroke-width="1"/>
<text x="461.90" y="258.80" font-size="9.9" text-anchor="end" fill="#111111" stroke="#111111" stroke-width="0.12">0.0</text>
<line x1="466.40" y1="280.00" x2="470.90" y2="280.00" stroke="#000" stroke-width="1"/>
<text x="461.90" y="283.60" font-size="9.9" text-anchor="end" fill="#111111" stroke="#111111" stroke-width="0.12">&#8722;0.2</text>
<rect x="597.90" y="204.70" width="50.60" height="46.90" rx="2" fill="#fff" stroke="#d0d0d0" stroke-width="0.8"/>
<text x="623.90" y="219.30" font-size="12.5" text-anchor="middle" fill="#111111" stroke="#111111" stroke-width="0.12">K (mM)</text>
<circle cx="611.20" cy="229.40" r="6.0" fill="#e9937a"/>
<text x="628.50" y="233.00" font-size="9.8" text-anchor="start" fill="#111111" stroke="#111111" stroke-width="0.12">85</text>
<circle cx="611.20" cy="243.30" r="6.0" fill="#e8293a"/>
<text x="628.50" y="246.90" font-size="9.8" text-anchor="start" fill="#111111" stroke="#111111" stroke-width="0.12">185</text>
<text x="435.80" y="224.50" font-size="9.7" text-anchor="middle" fill="#111111" stroke="#111111" stroke-width="0.12" transform="rotate(-90 435.8 224.5)">&#916;Yield (pmol)</text>
<rect x="72.00" y="362.90" width="19.78" height="16.96" fill="#98b4da" stroke="none" stroke-width="1"/>
<rect x="91.78" y="362.90" width="19.78" height="16.96" fill="#3f5aa6" stroke="none" stroke-width="1"/>
<rect x="111.56" y="362.90" width="19.78" height="16.96" fill="#98b4da" stroke="none" stroke-width="1"/>
<rect x="131.34" y="362.90" width="19.78" height="16.96" fill="#3f5aa6" stroke="none" stroke-width="1"/>
<rect x="151.12" y="362.90" width="19.78" height="16.96" fill="#eca98e" stroke="none" stroke-width="1"/>
<rect x="170.90" y="362.90" width="19.78" height="16.96" fill="#98b4da" stroke="none" stroke-width="1"/>
<rect x="190.68" y="362.90" width="19.78" height="16.96" fill="#b21b2f" stroke="none" stroke-width="1"/>
<rect x="210.46" y="362.90" width="19.78" height="16.96" fill="#3f5aa6" stroke="none" stroke-width="1"/>
<rect x="230.24" y="362.90" width="19.78" height="16.96" fill="#3f5aa6" stroke="none" stroke-width="1"/>
<rect x="250.02" y="362.90" width="19.78" height="16.96" fill="#3f5aa6" stroke="none" stroke-width="1"/>
<rect x="269.80" y="362.90" width="19.78" height="16.96" fill="#e0705a" stroke="none" stroke-width="1"/>
<rect x="289.58" y="362.90" width="19.78" height="16.96" fill="#b21b2f" stroke="none" stroke-width="1"/>
<rect x="309.36" y="362.90" width="19.78" height="16.96" fill="#b21b2f" stroke="none" stroke-width="1"/>
<rect x="329.14" y="362.90" width="19.78" height="16.96" fill="#3f5aa6" stroke="none" stroke-width="1"/>
<rect x="348.92" y="362.90" width="19.78" height="16.96" fill="#3f5aa6" stroke="none" stroke-width="1"/>
<rect x="368.70" y="362.90" width="19.78" height="16.96" fill="#98b4da" stroke="none" stroke-width="1"/>
<rect x="388.48" y="362.90" width="19.78" height="16.96" fill="#eca98e" stroke="none" stroke-width="1"/>
<rect x="408.26" y="362.90" width="19.78" height="16.96" fill="#3f5aa6" stroke="none" stroke-width="1"/>
<rect x="428.04" y="362.90" width="19.78" height="16.96" fill="#98b4da" stroke="none" stroke-width="1"/>
<rect x="447.82" y="362.90" width="19.78" height="16.96" fill="#eca98e" stroke="none" stroke-width="1"/>
<rect x="467.60" y="362.90" width="19.78" height="16.96" fill="#eca98e" stroke="none" stroke-width="1"/>
<rect x="487.38" y="362.90" width="19.78" height="16.96" fill="#98b4da" stroke="none" stroke-width="1"/>
<rect x="507.16" y="362.90" width="19.78" height="16.96" fill="#3f5aa6" stroke="none" stroke-width="1"/>
<rect x="526.94" y="362.90" width="19.78" height="16.96" fill="#98b4da" stroke="none" stroke-width="1"/>
<rect x="546.72" y="362.90" width="19.78" height="16.96" fill="#98b4da" stroke="none" stroke-width="1"/>
<rect x="566.50" y="362.90" width="19.78" height="16.96" fill="#3f5aa6" stroke="none" stroke-width="1"/>
<rect x="586.28" y="362.90" width="19.78" height="16.96" fill="#98b4da" stroke="none" stroke-width="1"/>
<rect x="606.06" y="362.90" width="19.78" height="16.96" fill="#3f5aa6" stroke="none" stroke-width="1"/>
<rect x="72.00" y="379.86" width="19.78" height="16.96" fill="#98b4da" stroke="none" stroke-width="1"/>
<rect x="91.78" y="379.86" width="19.78" height="16.96" fill="#3f5aa6" stroke="none" stroke-width="1"/>
<rect x="111.56" y="379.86" width="19.78" height="16.96" fill="#3f5aa6" stroke="none" stroke-width="1"/>
<rect x="131.34" y="379.86" width="19.78" height="16.96" fill="#e0705a" stroke="none" stroke-width="1"/>
<rect x="151.12" y="379.86" width="19.78" height="16.96" fill="#eca98e" stroke="none" stroke-width="1"/>
<rect x="170.90" y="379.86" width="19.78" height="16.96" fill="#3f5aa6" stroke="none" stroke-width="1"/>
<rect x="190.68" y="379.86" width="19.78" height="16.96" fill="#d5d5d5" stroke="none" stroke-width="1"/>
<rect x="210.46" y="379.86" width="19.78" height="16.96" fill="#3f5aa6" stroke="none" stroke-width="1"/>
<rect x="230.24" y="379.86" width="19.78" height="16.96" fill="#3f5aa6" stroke="none" stroke-width="1"/>
<rect x="250.02" y="379.86" width="19.78" height="16.96" fill="#6a85bf" stroke="none" stroke-width="1"/>
<rect x="269.80" y="379.86" width="19.78" height="16.96" fill="#98b4da" stroke="none" stroke-width="1"/>
<rect x="289.58" y="379.86" width="19.78" height="16.96" fill="#d5d5d5" stroke="none" stroke-width="1"/>
<rect x="309.36" y="379.86" width="19.78" height="16.96" fill="#d5d5d5" stroke="none" stroke-width="1"/>
<rect x="329.14" y="379.86" width="19.78" height="16.96" fill="#b21b2f" stroke="none" stroke-width="1"/>
<rect x="348.92" y="379.86" width="19.78" height="16.96" fill="#eca98e" stroke="none" stroke-width="1"/>
<rect x="368.70" y="379.86" width="19.78" height="16.96" fill="#b21b2f" stroke="none" stroke-width="1"/>
<rect x="388.48" y="379.86" width="19.78" height="16.96" fill="#98b4da" stroke="none" stroke-width="1"/>
<rect x="408.26" y="379.86" width="19.78" height="16.96" fill="#3f5aa6" stroke="none" stroke-width="1"/>
<rect x="428.04" y="379.86" width="19.78" height="16.96" fill="#e0705a" stroke="none" stroke-width="1"/>
<rect x="447.82" y="379.86" width="19.78" height="16.96" fill="#e0705a" stroke="none" stroke-width="1"/>
<rect x="467.60" y="379.86" width="19.78" height="16.96" fill="#d5d5d5" stroke="none" stroke-width="1"/>
<rect x="487.38" y="379.86" width="19.78" height="16.96" fill="#e0705a" stroke="none" stroke-width="1"/>
<rect x="507.16" y="379.86" width="19.78" height="16.96" fill="#e0705a" stroke="none" stroke-width="1"/>
<rect x="526.94" y="379.86" width="19.78" height="16.96" fill="#6a85bf" stroke="none" stroke-width="1"/>
<rect x="546.72" y="379.86" width="19.78" height="16.96" fill="#eca98e" stroke="none" stroke-width="1"/>
<rect x="566.50" y="379.86" width="19.78" height="16.96" fill="#6a85bf" stroke="none" stroke-width="1"/>
<rect x="586.28" y="379.86" width="19.78" height="16.96" fill="#6a85bf" stroke="none" stroke-width="1"/>
<rect x="606.06" y="379.86" width="19.78" height="16.96" fill="#3f5aa6" stroke="none" stroke-width="1"/>
<rect x="72.00" y="396.82" width="19.78" height="16.96" fill="#d5d5d5" stroke="none" stroke-width="1"/>
<rect x="91.78" y="396.82" width="19.78" height="16.96" fill="#d5d5d5" stroke="none" stroke-width="1"/>
<rect x="111.56" y="396.82" width="19.78" height="16.96" fill="#eca98e" stroke="none" stroke-width="1"/>
<rect x="131.34" y="396.82" width="19.78" height="16.96" fill="#98b4da" stroke="none" stroke-width="1"/>
<rect x="151.12" y="396.82" width="19.78" height="16.96" fill="#eca98e" stroke="none" stroke-width="1"/>
<rect x="170.90" y="396.82" width="19.78" height="16.96" fill="#d5d5d5" stroke="none" stroke-width="1"/>
<rect x="190.68" y="396.82" width="19.78" height="16.96" fill="#98b4da" stroke="none" stroke-width="1"/>
<rect x="210.46" y="396.82" width="19.78" height="16.96" fill="#eca98e" stroke="none" stroke-width="1"/>
<rect x="230.24" y="396.82" width="19.78" height="16.96" fill="#d5d5d5" stroke="none" stroke-width="1"/>
<rect x="250.02" y="396.82" width="19.78" height="16.96" fill="#98b4da" stroke="none" stroke-width="1"/>
<rect x="269.80" y="396.82" width="19.78" height="16.96" fill="#98b4da" stroke="none" stroke-width="1"/>
<rect x="289.58" y="396.82" width="19.78" height="16.96" fill="#eca98e" stroke="none" stroke-width="1"/>
<rect x="309.36" y="396.82" width="19.78" height="16.96" fill="#eca98e" stroke="none" stroke-width="1"/>
<rect x="329.14" y="396.82" width="19.78" height="16.96" fill="#98b4da" stroke="none" stroke-width="1"/>
<rect x="348.92" y="396.82" width="19.78" height="16.96" fill="#98b4da" stroke="none" stroke-width="1"/>
<rect x="368.70" y="396.82" width="19.78" height="16.96" fill="#98b4da" stroke="none" stroke-width="1"/>
<rect x="388.48" y="396.82" width="19.78" height="16.96" fill="#eca98e" stroke="none" stroke-width="1"/>
<rect x="408.26" y="396.82" width="19.78" height="16.96" fill="#98b4da" stroke="none" stroke-width="1"/>
<rect x="428.04" y="396.82" width="19.78" height="16.96" fill="#98b4da" stroke="none" stroke-width="1"/>
<rect x="447.82" y="396.82" width="19.78" height="16.96" fill="#b21b2f" stroke="none" stroke-width="1"/>
<rect x="467.60" y="396.82" width="19.78" height="16.96" fill="#98b4da" stroke="none" stroke-width="1"/>
<rect x="487.38" y="396.82" width="19.78" height="16.96" fill="#3f5aa6" stroke="none" stroke-width="1"/>
<rect x="507.16" y="396.82" width="19.78" height="16.96" fill="#98b4da" stroke="none" stroke-width="1"/>
<rect x="526.94" y="396.82" width="19.78" height="16.96" fill="#eca98e" stroke="none" stroke-width="1"/>
<rect x="546.72" y="396.82" width="19.78" height="16.96" fill="#eca98e" stroke="none" stroke-width="1"/>
<rect x="566.50" y="396.82" width="19.78" height="16.96" fill="#eca98e" stroke="none" stroke-width="1"/>
<rect x="586.28" y="396.82" width="19.78" height="16.96" fill="#98b4da" stroke="none" stroke-width="1"/>
<rect x="606.06" y="396.82" width="19.78" height="16.96" fill="#eca98e" stroke="none" stroke-width="1"/>
<rect x="72.00" y="413.78" width="19.78" height="16.96" fill="#ebbea9" stroke="none" stroke-width="1"/>
<rect x="91.78" y="413.78" width="19.78" height="16.96" fill="#eca98e" stroke="none" stroke-width="1"/>
<rect x="111.56" y="413.78" width="19.78" height="16.96" fill="#bccfe4" stroke="none" stroke-width="1"/>
<rect x="131.34" y="413.78" width="19.78" height="16.96" fill="#6a85bf" stroke="none" stroke-width="1"/>
<rect x="151.12" y="413.78" width="19.78" height="16.96" fill="#98b4da" stroke="none" stroke-width="1"/>
<rect x="170.90" y="413.78" width="19.78" height="16.96" fill="#e3cbbf" stroke="none" stroke-width="1"/>
<rect x="190.68" y="413.78" width="19.78" height="16.96" fill="#eca98e" stroke="none" stroke-width="1"/>
<rect x="210.46" y="413.78" width="19.78" height="16.96" fill="#d5d5d5" stroke="none" stroke-width="1"/>
<rect x="230.24" y="413.78" width="19.78" height="16.96" fill="#eca98e" stroke="none" stroke-width="1"/>
<rect x="250.02" y="413.78" width="19.78" height="16.96" fill="#d5d5d5" stroke="none" stroke-width="1"/>
<rect x="269.80" y="413.78" width="19.78" height="16.96" fill="#e0705a" stroke="none" stroke-width="1"/>
<rect x="289.58" y="413.78" width="19.78" height="16.96" fill="#d5d5d5" stroke="none" stroke-width="1"/>
<rect x="309.36" y="413.78" width="19.78" height="16.96" fill="#eca98e" stroke="none" stroke-width="1"/>
<rect x="329.14" y="413.78" width="19.78" height="16.96" fill="#eca98e" stroke="none" stroke-width="1"/>
<rect x="348.92" y="413.78" width="19.78" height="16.96" fill="#eca98e" stroke="none" stroke-width="1"/>
<rect x="368.70" y="413.78" width="19.78" height="16.96" fill="#eca98e" stroke="none" stroke-width="1"/>
<rect x="388.48" y="413.78" width="19.78" height="16.96" fill="#e0705a" stroke="none" stroke-width="1"/>
<rect x="408.26" y="413.78" width="19.78" height="16.96" fill="#ebbea9" stroke="none" stroke-width="1"/>
<rect x="428.04" y="413.78" width="19.78" height="16.96" fill="#b21b2f" stroke="none" stroke-width="1"/>
<rect x="447.82" y="413.78" width="19.78" height="16.96" fill="#e0705a" stroke="none" stroke-width="1"/>
<rect x="467.60" y="413.78" width="19.78" height="16.96" fill="#d5d5d5" stroke="none" stroke-width="1"/>
<rect x="487.38" y="413.78" width="19.78" height="16.96" fill="#98b4da" stroke="none" stroke-width="1"/>
<rect x="507.16" y="413.78" width="19.78" height="16.96" fill="#98b4da" stroke="none" stroke-width="1"/>
<rect x="526.94" y="413.78" width="19.78" height="16.96" fill="#d5d5d5" stroke="none" stroke-width="1"/>
<rect x="546.72" y="413.78" width="19.78" height="16.96" fill="#98b4da" stroke="none" stroke-width="1"/>
<rect x="566.50" y="413.78" width="19.78" height="16.96" fill="#98b4da" stroke="none" stroke-width="1"/>
<rect x="586.28" y="413.78" width="19.78" height="16.96" fill="#d5d5d5" stroke="none" stroke-width="1"/>
<rect x="606.06" y="413.78" width="19.78" height="16.96" fill="#bccfe4" stroke="none" stroke-width="1"/>
<rect x="72.00" y="430.74" width="19.78" height="16.96" fill="#eca98e" stroke="none" stroke-width="1"/>
<rect x="91.78" y="430.74" width="19.78" height="16.96" fill="#b21b2f" stroke="none" stroke-width="1"/>
<rect x="111.56" y="430.74" width="19.78" height="16.96" fill="#eca98e" stroke="none" stroke-width="1"/>
<rect x="131.34" y="430.74" width="19.78" height="16.96" fill="#98b4da" stroke="none" stroke-width="1"/>
<rect x="151.12" y="430.74" width="19.78" height="16.96" fill="#b21b2f" stroke="none" stroke-width="1"/>
<rect x="170.90" y="430.74" width="19.78" height="16.96" fill="#98b4da" stroke="none" stroke-width="1"/>
<rect x="190.68" y="430.74" width="19.78" height="16.96" fill="#eca98e" stroke="none" stroke-width="1"/>
<rect x="210.46" y="430.74" width="19.78" height="16.96" fill="#eca98e" stroke="none" stroke-width="1"/>
<rect x="230.24" y="430.74" width="19.78" height="16.96" fill="#b21b2f" stroke="none" stroke-width="1"/>
<rect x="250.02" y="430.74" width="19.78" height="16.96" fill="#eca98e" stroke="none" stroke-width="1"/>
<rect x="269.80" y="430.74" width="19.78" height="16.96" fill="#b21b2f" stroke="none" stroke-width="1"/>
<rect x="289.58" y="430.74" width="19.78" height="16.96" fill="#eca98e" stroke="none" stroke-width="1"/>
<rect x="309.36" y="430.74" width="19.78" height="16.96" fill="#b21b2f" stroke="none" stroke-width="1"/>
<rect x="329.14" y="430.74" width="19.78" height="16.96" fill="#eca98e" stroke="none" stroke-width="1"/>
<rect x="348.92" y="430.74" width="19.78" height="16.96" fill="#b21b2f" stroke="none" stroke-width="1"/>
<rect x="368.70" y="430.74" width="19.78" height="16.96" fill="#98b4da" stroke="none" stroke-width="1"/>
<rect x="388.48" y="430.74" width="19.78" height="16.96" fill="#98b4da" stroke="none" stroke-width="1"/>
<rect x="408.26" y="430.74" width="19.78" height="16.96" fill="#98b4da" stroke="none" stroke-width="1"/>
<rect x="428.04" y="430.74" width="19.78" height="16.96" fill="#98b4da" stroke="none" stroke-width="1"/>
<rect x="447.82" y="430.74" width="19.78" height="16.96" fill="#b21b2f" stroke="none" stroke-width="1"/>
<rect x="467.60" y="430.74" width="19.78" height="16.96" fill="#eca98e" stroke="none" stroke-width="1"/>
<rect x="487.38" y="430.74" width="19.78" height="16.96" fill="#b21b2f" stroke="none" stroke-width="1"/>
<rect x="507.16" y="430.74" width="19.78" height="16.96" fill="#eca98e" stroke="none" stroke-width="1"/>
<rect x="526.94" y="430.74" width="19.78" height="16.96" fill="#eca98e" stroke="none" stroke-width="1"/>
<rect x="546.72" y="430.74" width="19.78" height="16.96" fill="#98b4da" stroke="none" stroke-width="1"/>
<rect x="566.50" y="430.74" width="19.78" height="16.96" fill="#eca98e" stroke="none" stroke-width="1"/>
<rect x="586.28" y="430.74" width="19.78" height="16.96" fill="#98b4da" stroke="none" stroke-width="1"/>
<rect x="606.06" y="430.74" width="19.78" height="16.96" fill="#eca98e" stroke="none" stroke-width="1"/>
<line x1="91.78" y1="362.90" x2="91.78" y2="447.70" stroke="#fff" stroke-width="1"/>
<line x1="111.56" y1="362.90" x2="111.56" y2="447.70" stroke="#fff" stroke-width="1"/>
<line x1="131.34" y1="362.90" x2="131.34" y2="447.70" stroke="#fff" stroke-width="1"/>
<line x1="151.12" y1="362.90" x2="151.12" y2="447.70" stroke="#fff" stroke-width="1"/>
<line x1="170.90" y1="362.90" x2="170.90" y2="447.70" stroke="#fff" stroke-width="1"/>
<line x1="190.68" y1="362.90" x2="190.68" y2="447.70" stroke="#fff" stroke-width="1"/>
<line x1="210.46" y1="362.90" x2="210.46" y2="447.70" stroke="#fff" stroke-width="1"/>
<line x1="230.24" y1="362.90" x2="230.24" y2="447.70" stroke="#fff" stroke-width="1"/>
<line x1="250.02" y1="362.90" x2="250.02" y2="447.70" stroke="#fff" stroke-width="1"/>
<line x1="269.80" y1="362.90" x2="269.80" y2="447.70" stroke="#fff" stroke-width="1"/>
<line x1="289.58" y1="362.90" x2="289.58" y2="447.70" stroke="#fff" stroke-width="1"/>
<line x1="309.36" y1="362.90" x2="309.36" y2="447.70" stroke="#fff" stroke-width="1"/>
<line x1="329.14" y1="362.90" x2="329.14" y2="447.70" stroke="#fff" stroke-width="1"/>
<line x1="348.92" y1="362.90" x2="348.92" y2="447.70" stroke="#fff" stroke-width="1"/>
<line x1="368.70" y1="362.90" x2="368.70" y2="447.70" stroke="#fff" stroke-width="1"/>
<line x1="388.48" y1="362.90" x2="388.48" y2="447.70" stroke="#fff" stroke-width="1"/>
<line x1="408.26" y1="362.90" x2="408.26" y2="447.70" stroke="#fff" stroke-width="1"/>
<line x1="428.04" y1="362.90" x2="428.04" y2="447.70" stroke="#fff" stroke-width="1"/>
<line x1="447.82" y1="362.90" x2="447.82" y2="447.70" stroke="#fff" stroke-width="1"/>
<line x1="467.60" y1="362.90" x2="467.60" y2="447.70" stroke="#fff" stroke-width="1"/>
<line x1="487.38" y1="362.90" x2="487.38" y2="447.70" stroke="#fff" stroke-width="1"/>
<line x1="507.16" y1="362.90" x2="507.16" y2="447.70" stroke="#fff" stroke-width="1"/>
<line x1="526.94" y1="362.90" x2="526.94" y2="447.70" stroke="#fff" stroke-width="1"/>
<line x1="546.72" y1="362.90" x2="546.72" y2="447.70" stroke="#fff" stroke-width="1"/>
<line x1="566.50" y1="362.90" x2="566.50" y2="447.70" stroke="#fff" stroke-width="1"/>
<line x1="586.28" y1="362.90" x2="586.28" y2="447.70" stroke="#fff" stroke-width="1"/>
<line x1="606.06" y1="362.90" x2="606.06" y2="447.70" stroke="#fff" stroke-width="1"/>
<line x1="72.00" y1="379.86" x2="625.84" y2="379.86" stroke="#fff" stroke-width="1"/>
<line x1="72.00" y1="396.82" x2="625.84" y2="396.82" stroke="#fff" stroke-width="1"/>
<line x1="72.00" y1="413.78" x2="625.84" y2="413.78" stroke="#fff" stroke-width="1"/>
<line x1="72.00" y1="430.74" x2="625.84" y2="430.74" stroke="#fff" stroke-width="1"/>
<line x1="67.90" y1="371.38" x2="71.70" y2="371.38" stroke="#000" stroke-width="1"/>
<text x="62.90" y="374.78" font-size="9.5" text-anchor="end" fill="#111111" stroke="#111111" stroke-width="0.12">lipid</text>
<line x1="67.90" y1="388.34" x2="71.70" y2="388.34" stroke="#000" stroke-width="1"/>
<text x="62.90" y="391.74" font-size="9.5" text-anchor="end" fill="#111111" stroke="#111111" stroke-width="0.12">PEG</text>
<line x1="67.90" y1="405.30" x2="71.70" y2="405.30" stroke="#000" stroke-width="1"/>
<text x="62.90" y="408.70" font-size="9.5" text-anchor="end" fill="#111111" stroke="#111111" stroke-width="0.12">K</text>
<line x1="67.90" y1="422.26" x2="71.70" y2="422.26" stroke="#000" stroke-width="1"/>
<text x="62.90" y="425.66" font-size="9.5" text-anchor="end" fill="#111111" stroke="#111111" stroke-width="0.12">Mg</text>
<line x1="67.90" y1="439.22" x2="71.70" y2="439.22" stroke="#000" stroke-width="1"/>
<text x="62.90" y="442.62" font-size="9.5" text-anchor="end" fill="#111111" stroke="#111111" stroke-width="0.12">SecYE</text>
<line x1="81.89" y1="358.30" x2="81.89" y2="362.90" stroke="#000" stroke-width="1"/>
<text x="86.69" y="351.90" font-size="9.4" text-anchor="start" fill="#111111" stroke="#111111" stroke-width="0.12" transform="rotate(-45 86.69 351.9)">Glut</text>
<line x1="101.67" y1="358.30" x2="101.67" y2="362.90" stroke="#000" stroke-width="1"/>
<text x="106.47" y="351.90" font-size="9.4" text-anchor="start" fill="#111111" stroke="#111111" stroke-width="0.12" transform="rotate(-45 106.47 351.9)">Mol</text>
<line x1="121.45" y1="358.30" x2="121.45" y2="362.90" stroke="#000" stroke-width="1"/>
<text x="126.25" y="351.90" font-size="9.4" text-anchor="start" fill="#111111" stroke="#111111" stroke-width="0.12" transform="rotate(-45 126.25 351.9)">Neu</text>
<line x1="141.23" y1="358.30" x2="141.23" y2="362.90" stroke="#000" stroke-width="1"/>
<text x="146.03" y="351.90" font-size="9.4" text-anchor="start" fill="#111111" stroke="#111111" stroke-width="0.12" transform="rotate(-45 146.03000000000003 351.9)">OR1A1</text>
<line x1="161.01" y1="358.30" x2="161.01" y2="362.90" stroke="#000" stroke-width="1"/>
<text x="165.81" y="351.90" font-size="9.4" text-anchor="start" fill="#111111" stroke="#111111" stroke-width="0.12" transform="rotate(-45 165.81 351.9)">AqpZ</text>
<line x1="180.79" y1="358.30" x2="180.79" y2="362.90" stroke="#000" stroke-width="1"/>
<text x="185.59" y="351.90" font-size="9.4" text-anchor="start" fill="#111111" stroke="#111111" stroke-width="0.12" transform="rotate(-45 185.59000000000003 351.9)">Vol</text>
<line x1="200.57" y1="358.30" x2="200.57" y2="362.90" stroke="#000" stroke-width="1"/>
<text x="205.37" y="351.90" font-size="9.4" text-anchor="start" fill="#111111" stroke="#111111" stroke-width="0.12" transform="rotate(-45 205.37 351.9)">CD9</text>
<line x1="220.35" y1="358.30" x2="220.35" y2="362.90" stroke="#000" stroke-width="1"/>
<text x="225.15" y="351.90" font-size="9.4" text-anchor="start" fill="#111111" stroke="#111111" stroke-width="0.12" transform="rotate(-45 225.15000000000003 351.9)">FFAR4</text>
<line x1="240.13" y1="358.30" x2="240.13" y2="362.90" stroke="#000" stroke-width="1"/>
<text x="244.93" y="351.90" font-size="9.4" text-anchor="start" fill="#111111" stroke="#111111" stroke-width="0.12" transform="rotate(-45 244.93 351.9)">Mito</text>
<line x1="259.91" y1="358.30" x2="259.91" y2="362.90" stroke="#000" stroke-width="1"/>
<text x="264.71" y="351.90" font-size="9.4" text-anchor="start" fill="#111111" stroke="#111111" stroke-width="0.12" transform="rotate(-45 264.71000000000004 351.9)">MtlA</text>
<line x1="279.69" y1="358.30" x2="279.69" y2="362.90" stroke="#000" stroke-width="1"/>
<text x="284.49" y="351.90" font-size="9.4" text-anchor="start" fill="#111111" stroke="#111111" stroke-width="0.12" transform="rotate(-45 284.49 351.9)">CaM</text>
<line x1="299.47" y1="358.30" x2="299.47" y2="362.90" stroke="#000" stroke-width="1"/>
<text x="304.27" y="351.90" font-size="9.4" text-anchor="start" fill="#111111" stroke="#111111" stroke-width="0.12" transform="rotate(-45 304.27000000000004 351.9)">CRCM</text>
<line x1="319.25" y1="358.30" x2="319.25" y2="362.90" stroke="#000" stroke-width="1"/>
<text x="324.05" y="351.90" font-size="9.4" text-anchor="start" fill="#111111" stroke="#111111" stroke-width="0.12" transform="rotate(-45 324.05 351.9)">Aux</text>
<line x1="339.03" y1="358.30" x2="339.03" y2="362.90" stroke="#000" stroke-width="1"/>
<text x="343.83" y="351.90" font-size="9.4" text-anchor="start" fill="#111111" stroke="#111111" stroke-width="0.12" transform="rotate(-45 343.83000000000004 351.9)">Dia</text>
<line x1="358.81" y1="358.30" x2="358.81" y2="362.90" stroke="#000" stroke-width="1"/>
<text x="363.61" y="351.90" font-size="9.4" text-anchor="start" fill="#111111" stroke="#111111" stroke-width="0.12" transform="rotate(-45 363.61 351.9)">CML1</text>
<line x1="378.59" y1="358.30" x2="378.59" y2="362.90" stroke="#000" stroke-width="1"/>
<text x="383.39" y="351.90" font-size="9.4" text-anchor="start" fill="#111111" stroke="#111111" stroke-width="0.12" transform="rotate(-45 383.39000000000004 351.9)">CD81</text>
<line x1="398.37" y1="358.30" x2="398.37" y2="362.90" stroke="#000" stroke-width="1"/>
<text x="403.17" y="351.90" font-size="9.4" text-anchor="start" fill="#111111" stroke="#111111" stroke-width="0.12" transform="rotate(-45 403.17 351.9)">Cx43</text>
<line x1="418.15" y1="358.30" x2="418.15" y2="362.90" stroke="#000" stroke-width="1"/>
<text x="422.95" y="351.90" font-size="9.4" text-anchor="start" fill="#111111" stroke="#111111" stroke-width="0.12" transform="rotate(-45 422.95000000000005 351.9)">MscL</text>
<line x1="437.93" y1="358.30" x2="437.93" y2="362.90" stroke="#000" stroke-width="1"/>
<text x="442.73" y="351.90" font-size="9.4" text-anchor="start" fill="#111111" stroke="#111111" stroke-width="0.12" transform="rotate(-45 442.73 351.9)">CD47</text>
<line x1="457.71" y1="358.30" x2="457.71" y2="362.90" stroke="#000" stroke-width="1"/>
<text x="462.51" y="351.90" font-size="9.4" text-anchor="start" fill="#111111" stroke="#111111" stroke-width="0.12" transform="rotate(-45 462.51000000000005 351.9)">InP</text>
<line x1="477.49" y1="358.30" x2="477.49" y2="362.90" stroke="#000" stroke-width="1"/>
<text x="482.29" y="351.90" font-size="9.4" text-anchor="start" fill="#111111" stroke="#111111" stroke-width="0.12" transform="rotate(-45 482.29 351.9)">B3AR</text>
<line x1="497.27" y1="358.30" x2="497.27" y2="362.90" stroke="#000" stroke-width="1"/>
<text x="502.07" y="351.90" font-size="9.4" text-anchor="start" fill="#111111" stroke="#111111" stroke-width="0.12" transform="rotate(-45 502.07000000000005 351.9)">CD63</text>
<line x1="517.05" y1="358.30" x2="517.05" y2="362.90" stroke="#000" stroke-width="1"/>
<text x="521.85" y="351.90" font-size="9.4" text-anchor="start" fill="#111111" stroke="#111111" stroke-width="0.12" transform="rotate(-45 521.8499999999999 351.9)">Beta</text>
<line x1="536.83" y1="358.30" x2="536.83" y2="362.90" stroke="#000" stroke-width="1"/>
<text x="541.63" y="351.90" font-size="9.4" text-anchor="start" fill="#111111" stroke="#111111" stroke-width="0.12" transform="rotate(-45 541.63 351.9)">OR2AG1</text>
<line x1="556.61" y1="358.30" x2="556.61" y2="362.90" stroke="#000" stroke-width="1"/>
<text x="561.41" y="351.90" font-size="9.4" text-anchor="start" fill="#111111" stroke="#111111" stroke-width="0.12" transform="rotate(-45 561.41 351.9)">OR1E1</text>
<line x1="576.39" y1="358.30" x2="576.39" y2="362.90" stroke="#000" stroke-width="1"/>
<text x="581.19" y="351.90" font-size="9.4" text-anchor="start" fill="#111111" stroke="#111111" stroke-width="0.12" transform="rotate(-45 581.19 351.9)">SecYE-G</text>
<line x1="596.17" y1="358.30" x2="596.17" y2="362.90" stroke="#000" stroke-width="1"/>
<text x="600.97" y="351.90" font-size="9.4" text-anchor="start" fill="#111111" stroke="#111111" stroke-width="0.12" transform="rotate(-45 600.97 351.9)">OR1D2</text>
<line x1="615.95" y1="358.30" x2="615.95" y2="362.90" stroke="#000" stroke-width="1"/>
<text x="620.75" y="351.90" font-size="9.4" text-anchor="start" fill="#111111" stroke="#111111" stroke-width="0.12" transform="rotate(-45 620.75 351.9)">B2AR</text>
<defs><linearGradient id="gD" x1="0" y1="1" x2="0" y2="0"><stop offset="0" stop-color="#b21b2f"/><stop offset="0.15" stop-color="#e0705a"/><stop offset="0.3" stop-color="#eca98e"/><stop offset="0.4" stop-color="#e8c4b3"/><stop offset="0.5" stop-color="#d5d5d5"/><stop offset="0.62" stop-color="#bccfe4"/><stop offset="0.75" stop-color="#98b4da"/><stop offset="0.9" stop-color="#6a85bf"/><stop offset="1" stop-color="#3f5aa6"/></linearGradient></defs>
<rect x="633.90" y="367.10" width="6.00" height="70.50" fill="url(#gD)" stroke="none" stroke-width="1"/>
<line x1="639.90" y1="368.40" x2="644.00" y2="368.40" stroke="#000" stroke-width="1"/>
<text x="649.50" y="372.00" font-size="9.9" text-anchor="start" fill="#111111" stroke="#111111" stroke-width="0.12">1.0</text>
<line x1="639.90" y1="402.70" x2="644.00" y2="402.70" stroke="#000" stroke-width="1"/>
<text x="649.50" y="406.30" font-size="9.9" text-anchor="start" fill="#111111" stroke="#111111" stroke-width="0.12">0.5</text>
<line x1="639.90" y1="437.00" x2="644.00" y2="437.00" stroke="#000" stroke-width="1"/>
<text x="649.50" y="440.60" font-size="9.9" text-anchor="start" fill="#111111" stroke="#111111" stroke-width="0.12">0.0</text>
<text x="667.00" y="402.80" font-size="9.6" text-anchor="middle" fill="#111111" stroke="#111111" stroke-width="0.12" transform="rotate(90 667.0 402.8)">Concentration</text>
<text x="677.60" y="401.30" font-size="9.6" text-anchor="middle" fill="#111111" stroke="#111111" stroke-width="0.12" transform="rotate(90 677.6 401.3)">Relative</text>
<rect x="72.00" y="455.80" width="19.78" height="13.86" fill="#d0dc38" stroke="none" stroke-width="1"/>
<rect x="91.78" y="455.80" width="19.78" height="13.86" fill="#f2e529" stroke="none" stroke-width="1"/>
<rect x="111.56" y="455.80" width="19.78" height="13.86" fill="#2a6a8e" stroke="none" stroke-width="1"/>
<rect x="131.34" y="455.80" width="19.78" height="13.86" fill="#f2e529" stroke="none" stroke-width="1"/>
<rect x="151.12" y="455.80" width="19.78" height="13.86" fill="#404688" stroke="none" stroke-width="1"/>
<rect x="170.90" y="455.80" width="19.78" height="13.86" fill="#d6de35" stroke="none" stroke-width="1"/>
<rect x="190.68" y="455.80" width="19.78" height="13.86" fill="#f2e529" stroke="none" stroke-width="1"/>
<rect x="210.46" y="455.80" width="19.78" height="13.86" fill="#8dc254" stroke="none" stroke-width="1"/>
<rect x="230.24" y="455.80" width="19.78" height="13.86" fill="#f2e529" stroke="none" stroke-width="1"/>
<rect x="250.02" y="455.80" width="19.78" height="13.86" fill="#f2e529" stroke="none" stroke-width="1"/>
<rect x="269.80" y="455.80" width="19.78" height="13.86" fill="#86c059" stroke="none" stroke-width="1"/>
<rect x="289.58" y="455.80" width="19.78" height="13.86" fill="#b5d141" stroke="none" stroke-width="1"/>
<rect x="309.36" y="455.80" width="19.78" height="13.86" fill="#f2e529" stroke="none" stroke-width="1"/>
<rect x="329.14" y="455.80" width="19.78" height="13.86" fill="#d0dc38" stroke="none" stroke-width="1"/>
<rect x="348.92" y="455.80" width="19.78" height="13.86" fill="#d0dc38" stroke="none" stroke-width="1"/>
<rect x="368.70" y="455.80" width="19.78" height="13.86" fill="#089f73" stroke="none" stroke-width="1"/>
<rect x="388.48" y="455.80" width="19.78" height="13.86" fill="#8dc254" stroke="none" stroke-width="1"/>
<rect x="408.26" y="455.80" width="19.78" height="13.86" fill="#f2e529" stroke="none" stroke-width="1"/>
<rect x="428.04" y="455.80" width="19.78" height="13.86" fill="#6ab86a" stroke="none" stroke-width="1"/>
<rect x="447.82" y="455.80" width="19.78" height="13.86" fill="#f0e428" stroke="none" stroke-width="1"/>
<rect x="467.60" y="455.80" width="19.78" height="13.86" fill="#30638f" stroke="none" stroke-width="1"/>
<rect x="487.38" y="455.80" width="19.78" height="13.86" fill="#0c8c86" stroke="none" stroke-width="1"/>
<rect x="507.16" y="455.80" width="19.78" height="13.86" fill="#089f73" stroke="none" stroke-width="1"/>
<rect x="526.94" y="455.80" width="19.78" height="13.86" fill="#94c450" stroke="none" stroke-width="1"/>
<rect x="546.72" y="455.80" width="19.78" height="13.86" fill="#089f73" stroke="none" stroke-width="1"/>
<rect x="566.50" y="455.80" width="19.78" height="13.86" fill="#78bc61" stroke="none" stroke-width="1"/>
<rect x="586.28" y="455.80" width="19.78" height="13.86" fill="#462676" stroke="none" stroke-width="1"/>
<rect x="606.06" y="455.80" width="19.78" height="13.86" fill="#089f73" stroke="none" stroke-width="1"/>
<rect x="72.00" y="469.66" width="19.78" height="13.86" fill="#d0dc38" stroke="none" stroke-width="1"/>
<rect x="91.78" y="469.66" width="19.78" height="13.86" fill="#99c64e" stroke="none" stroke-width="1"/>
<rect x="111.56" y="469.66" width="19.78" height="13.86" fill="#07a070" stroke="none" stroke-width="1"/>
<rect x="131.34" y="469.66" width="19.78" height="13.86" fill="#f2e529" stroke="none" stroke-width="1"/>
<rect x="151.12" y="469.66" width="19.78" height="13.86" fill="#f2e529" stroke="none" stroke-width="1"/>
<rect x="170.90" y="469.66" width="19.78" height="13.86" fill="#e3e12e" stroke="none" stroke-width="1"/>
<rect x="190.68" y="469.66" width="19.78" height="13.86" fill="#0a997d" stroke="none" stroke-width="1"/>
<rect x="210.46" y="469.66" width="19.78" height="13.86" fill="#f0e428" stroke="none" stroke-width="1"/>
<rect x="230.24" y="469.66" width="19.78" height="13.86" fill="#0a9681" stroke="none" stroke-width="1"/>
<rect x="250.02" y="469.66" width="19.78" height="13.86" fill="#f2e529" stroke="none" stroke-width="1"/>
<rect x="269.80" y="469.66" width="19.78" height="13.86" fill="#86c059" stroke="none" stroke-width="1"/>
<rect x="289.58" y="469.66" width="19.78" height="13.86" fill="#94c450" stroke="none" stroke-width="1"/>
<rect x="309.36" y="469.66" width="19.78" height="13.86" fill="#94c450" stroke="none" stroke-width="1"/>
<rect x="329.14" y="469.66" width="19.78" height="13.86" fill="#f0e428" stroke="none" stroke-width="1"/>
<rect x="348.92" y="469.66" width="19.78" height="13.86" fill="#3a5890" stroke="none" stroke-width="1"/>
<rect x="368.70" y="469.66" width="19.78" height="13.86" fill="#d0dc38" stroke="none" stroke-width="1"/>
<rect x="388.48" y="469.66" width="19.78" height="13.86" fill="#5ab46d" stroke="none" stroke-width="1"/>
<rect x="408.26" y="469.66" width="19.78" height="13.86" fill="#0f7f8a" stroke="none" stroke-width="1"/>
<rect x="428.04" y="469.66" width="19.78" height="13.86" fill="#f2e529" stroke="none" stroke-width="1"/>
<rect x="447.82" y="469.66" width="19.78" height="13.86" fill="#0f7f8a" stroke="none" stroke-width="1"/>
<rect x="467.60" y="469.66" width="19.78" height="13.86" fill="#b5d141" stroke="none" stroke-width="1"/>
<rect x="487.38" y="469.66" width="19.78" height="13.86" fill="#6ab86a" stroke="none" stroke-width="1"/>
<rect x="507.16" y="469.66" width="19.78" height="13.86" fill="#52b26e" stroke="none" stroke-width="1"/>
<rect x="526.94" y="469.66" width="19.78" height="13.86" fill="#a8cc46" stroke="none" stroke-width="1"/>
<rect x="546.72" y="469.66" width="19.78" height="13.86" fill="#345f8f" stroke="none" stroke-width="1"/>
<rect x="566.50" y="469.66" width="19.78" height="13.86" fill="#0f7f8a" stroke="none" stroke-width="1"/>
<rect x="586.28" y="469.66" width="19.78" height="13.86" fill="#3f4a8a" stroke="none" stroke-width="1"/>
<rect x="606.06" y="469.66" width="19.78" height="13.86" fill="#345f8f" stroke="none" stroke-width="1"/>
<rect x="72.00" y="483.52" width="19.78" height="13.86" fill="#f2e529" stroke="none" stroke-width="1"/>
<rect x="91.78" y="483.52" width="19.78" height="13.86" fill="#f2e529" stroke="none" stroke-width="1"/>
<rect x="111.56" y="483.52" width="19.78" height="13.86" fill="#2a6a8e" stroke="none" stroke-width="1"/>
<rect x="131.34" y="483.52" width="19.78" height="13.86" fill="#f2e529" stroke="none" stroke-width="1"/>
<rect x="151.12" y="483.52" width="19.78" height="13.86" fill="#089c78" stroke="none" stroke-width="1"/>
<rect x="170.90" y="483.52" width="19.78" height="13.86" fill="#d0dc38" stroke="none" stroke-width="1"/>
<rect x="190.68" y="483.52" width="19.78" height="13.86" fill="#089c78" stroke="none" stroke-width="1"/>
<rect x="210.46" y="483.52" width="19.78" height="13.86" fill="#d0dc38" stroke="none" stroke-width="1"/>
<rect x="230.24" y="483.52" width="19.78" height="13.86" fill="#f2e529" stroke="none" stroke-width="1"/>
<rect x="250.02" y="483.52" width="19.78" height="13.86" fill="#94c450" stroke="none" stroke-width="1"/>
<rect x="269.80" y="483.52" width="19.78" height="13.86" fill="#0ea270" stroke="none" stroke-width="1"/>
<rect x="289.58" y="483.52" width="19.78" height="13.86" fill="#0ea270" stroke="none" stroke-width="1"/>
<rect x="309.36" y="483.52" width="19.78" height="13.86" fill="#4ab06f" stroke="none" stroke-width="1"/>
<rect x="329.14" y="483.52" width="19.78" height="13.86" fill="#f0e428" stroke="none" stroke-width="1"/>
<rect x="348.92" y="483.52" width="19.78" height="13.86" fill="#0a9880" stroke="none" stroke-width="1"/>
<rect x="368.70" y="483.52" width="19.78" height="13.86" fill="#8dc254" stroke="none" stroke-width="1"/>
<rect x="388.48" y="483.52" width="19.78" height="13.86" fill="#b5d141" stroke="none" stroke-width="1"/>
<rect x="408.26" y="483.52" width="19.78" height="13.86" fill="#30638f" stroke="none" stroke-width="1"/>
<rect x="428.04" y="483.52" width="19.78" height="13.86" fill="#8dc254" stroke="none" stroke-width="1"/>
<rect x="447.82" y="483.52" width="19.78" height="13.86" fill="#94c450" stroke="none" stroke-width="1"/>
<rect x="467.60" y="483.52" width="19.78" height="13.86" fill="#3aac72" stroke="none" stroke-width="1"/>
<rect x="487.38" y="483.52" width="19.78" height="13.86" fill="#0a9880" stroke="none" stroke-width="1"/>
<rect x="507.16" y="483.52" width="19.78" height="13.86" fill="#6ab86a" stroke="none" stroke-width="1"/>
<rect x="526.94" y="483.52" width="19.78" height="13.86" fill="#0d8987" stroke="none" stroke-width="1"/>
<rect x="546.72" y="483.52" width="19.78" height="13.86" fill="#52b26e" stroke="none" stroke-width="1"/>
<rect x="566.50" y="483.52" width="19.78" height="13.86" fill="#3c538e" stroke="none" stroke-width="1"/>
<rect x="586.28" y="483.52" width="19.78" height="13.86" fill="#1f728c" stroke="none" stroke-width="1"/>
<rect x="606.06" y="483.52" width="19.78" height="13.86" fill="#0a9880" stroke="none" stroke-width="1"/>
<rect x="72.00" y="497.38" width="19.78" height="13.86" fill="#f2e529" stroke="none" stroke-width="1"/>
<rect x="91.78" y="497.38" width="19.78" height="13.86" fill="#eae22b" stroke="none" stroke-width="1"/>
<rect x="111.56" y="497.38" width="19.78" height="13.86" fill="#99c64e" stroke="none" stroke-width="1"/>
<rect x="131.34" y="497.38" width="19.78" height="13.86" fill="#4ab06f" stroke="none" stroke-width="1"/>
<rect x="151.12" y="497.38" width="19.78" height="13.86" fill="#17798b" stroke="none" stroke-width="1"/>
<rect x="170.90" y="497.38" width="19.78" height="13.86" fill="#f2e529" stroke="none" stroke-width="1"/>
<rect x="190.68" y="497.38" width="19.78" height="13.86" fill="#404688" stroke="none" stroke-width="1"/>
<rect x="210.46" y="497.38" width="19.78" height="13.86" fill="#089f73" stroke="none" stroke-width="1"/>
<rect x="230.24" y="497.38" width="19.78" height="13.86" fill="#6ab86a" stroke="none" stroke-width="1"/>
<rect x="250.02" y="497.38" width="19.78" height="13.86" fill="#94c450" stroke="none" stroke-width="1"/>
<rect x="269.80" y="497.38" width="19.78" height="13.86" fill="#f0e428" stroke="none" stroke-width="1"/>
<rect x="289.58" y="497.38" width="19.78" height="13.86" fill="#07a070" stroke="none" stroke-width="1"/>
<rect x="309.36" y="497.38" width="19.78" height="13.86" fill="#07a070" stroke="none" stroke-width="1"/>
<rect x="329.14" y="497.38" width="19.78" height="13.86" fill="#c3d73d" stroke="none" stroke-width="1"/>
<rect x="348.92" y="497.38" width="19.78" height="13.86" fill="#afcf44" stroke="none" stroke-width="1"/>
<rect x="368.70" y="497.38" width="19.78" height="13.86" fill="#8dc254" stroke="none" stroke-width="1"/>
<rect x="388.48" y="497.38" width="19.78" height="13.86" fill="#443e86" stroke="none" stroke-width="1"/>
<rect x="408.26" y="497.38" width="19.78" height="13.86" fill="#f2e529" stroke="none" stroke-width="1"/>
<rect x="428.04" y="497.38" width="19.78" height="13.86" fill="#e3e12e" stroke="none" stroke-width="1"/>
<rect x="447.82" y="497.38" width="19.78" height="13.86" fill="#2c688e" stroke="none" stroke-width="1"/>
<rect x="467.60" y="497.38" width="19.78" height="13.86" fill="#463884" stroke="none" stroke-width="1"/>
<rect x="487.38" y="497.38" width="19.78" height="13.86" fill="#52b26e" stroke="none" stroke-width="1"/>
<rect x="507.16" y="497.38" width="19.78" height="13.86" fill="#1da571" stroke="none" stroke-width="1"/>
<rect x="526.94" y="497.38" width="19.78" height="13.86" fill="#0a9880" stroke="none" stroke-width="1"/>
<rect x="546.72" y="497.38" width="19.78" height="13.86" fill="#0e8289" stroke="none" stroke-width="1"/>
<rect x="566.50" y="497.38" width="19.78" height="13.86" fill="#0e8289" stroke="none" stroke-width="1"/>
<rect x="586.28" y="497.38" width="19.78" height="13.86" fill="#52b26e" stroke="none" stroke-width="1"/>
<rect x="606.06" y="497.38" width="19.78" height="13.86" fill="#0e8289" stroke="none" stroke-width="1"/>
<rect x="72.00" y="511.24" width="19.78" height="13.86" fill="#f2e529" stroke="none" stroke-width="1"/>
<rect x="91.78" y="511.24" width="19.78" height="13.86" fill="#f0e428" stroke="none" stroke-width="1"/>
<rect x="111.56" y="511.24" width="19.78" height="13.86" fill="#99c64e" stroke="none" stroke-width="1"/>
<rect x="131.34" y="511.24" width="19.78" height="13.86" fill="#86c059" stroke="none" stroke-width="1"/>
<rect x="151.12" y="511.24" width="19.78" height="13.86" fill="#c3d73d" stroke="none" stroke-width="1"/>
<rect x="170.90" y="511.24" width="19.78" height="13.86" fill="#f2e529" stroke="none" stroke-width="1"/>
<rect x="190.68" y="511.24" width="19.78" height="13.86" fill="#9ec84b" stroke="none" stroke-width="1"/>
<rect x="210.46" y="511.24" width="19.78" height="13.86" fill="#c3d73d" stroke="none" stroke-width="1"/>
<rect x="230.24" y="511.24" width="19.78" height="13.86" fill="#6ab86a" stroke="none" stroke-width="1"/>
<rect x="250.02" y="511.24" width="19.78" height="13.86" fill="#276c8e" stroke="none" stroke-width="1"/>
<rect x="269.80" y="511.24" width="19.78" height="13.86" fill="#3e4b8a" stroke="none" stroke-width="1"/>
<rect x="289.58" y="511.24" width="19.78" height="13.86" fill="#0c8c86" stroke="none" stroke-width="1"/>
<rect x="309.36" y="511.24" width="19.78" height="13.86" fill="#f0e428" stroke="none" stroke-width="1"/>
<rect x="329.14" y="511.24" width="19.78" height="13.86" fill="#276c8e" stroke="none" stroke-width="1"/>
<rect x="348.92" y="511.24" width="19.78" height="13.86" fill="#2c688e" stroke="none" stroke-width="1"/>
<rect x="368.70" y="511.24" width="19.78" height="13.86" fill="#0f7f8a" stroke="none" stroke-width="1"/>
<rect x="388.48" y="511.24" width="19.78" height="13.86" fill="#3aac72" stroke="none" stroke-width="1"/>
<rect x="408.26" y="511.24" width="19.78" height="13.86" fill="#94c450" stroke="none" stroke-width="1"/>
<rect x="428.04" y="511.24" width="19.78" height="13.86" fill="#462676" stroke="none" stroke-width="1"/>
<rect x="447.82" y="511.24" width="19.78" height="13.86" fill="#30638f" stroke="none" stroke-width="1"/>
<rect x="467.60" y="511.24" width="19.78" height="13.86" fill="#16a371" stroke="none" stroke-width="1"/>
<rect x="487.38" y="511.24" width="19.78" height="13.86" fill="#463884" stroke="none" stroke-width="1"/>
<rect x="507.16" y="511.24" width="19.78" height="13.86" fill="#441762" stroke="none" stroke-width="1"/>
<rect x="526.94" y="511.24" width="19.78" height="13.86" fill="#147b8b" stroke="none" stroke-width="1"/>
<rect x="546.72" y="511.24" width="19.78" height="13.86" fill="#44135e" stroke="none" stroke-width="1"/>
<rect x="566.50" y="511.24" width="19.78" height="13.86" fill="#463884" stroke="none" stroke-width="1"/>
<rect x="586.28" y="511.24" width="19.78" height="13.86" fill="#78bc61" stroke="none" stroke-width="1"/>
<rect x="606.06" y="511.24" width="19.78" height="13.86" fill="#0f7f8a" stroke="none" stroke-width="1"/>
<rect x="72.00" y="525.10" width="19.78" height="13.86" fill="#f2e529" stroke="none" stroke-width="1"/>
<rect x="91.78" y="525.10" width="19.78" height="13.86" fill="#f2e529" stroke="none" stroke-width="1"/>
<rect x="111.56" y="525.10" width="19.78" height="13.86" fill="#e3e12e" stroke="none" stroke-width="1"/>
<rect x="131.34" y="525.10" width="19.78" height="13.86" fill="#c3d73d" stroke="none" stroke-width="1"/>
<rect x="151.12" y="525.10" width="19.78" height="13.86" fill="#6ab86a" stroke="none" stroke-width="1"/>
<rect x="170.90" y="525.10" width="19.78" height="13.86" fill="#4ab06f" stroke="none" stroke-width="1"/>
<rect x="190.68" y="525.10" width="19.78" height="13.86" fill="#16a371" stroke="none" stroke-width="1"/>
<rect x="210.46" y="525.10" width="19.78" height="13.86" fill="#a8cc46" stroke="none" stroke-width="1"/>
<rect x="230.24" y="525.10" width="19.78" height="13.86" fill="#6ab86a" stroke="none" stroke-width="1"/>
<rect x="250.02" y="525.10" width="19.78" height="13.86" fill="#d0dc38" stroke="none" stroke-width="1"/>
<rect x="269.80" y="525.10" width="19.78" height="13.86" fill="#0ea270" stroke="none" stroke-width="1"/>
<rect x="289.58" y="525.10" width="19.78" height="13.86" fill="#44135e" stroke="none" stroke-width="1"/>
<rect x="309.36" y="525.10" width="19.78" height="13.86" fill="#a8cc46" stroke="none" stroke-width="1"/>
<rect x="329.14" y="525.10" width="19.78" height="13.86" fill="#8dc254" stroke="none" stroke-width="1"/>
<rect x="348.92" y="525.10" width="19.78" height="13.86" fill="#e3e12e" stroke="none" stroke-width="1"/>
<rect x="368.70" y="525.10" width="19.78" height="13.86" fill="#0c8c86" stroke="none" stroke-width="1"/>
<rect x="388.48" y="525.10" width="19.78" height="13.86" fill="#3aac72" stroke="none" stroke-width="1"/>
<rect x="408.26" y="525.10" width="19.78" height="13.86" fill="#3b548e" stroke="none" stroke-width="1"/>
<rect x="428.04" y="525.10" width="19.78" height="13.86" fill="#462676" stroke="none" stroke-width="1"/>
<rect x="447.82" y="525.10" width="19.78" height="13.86" fill="#46297a" stroke="none" stroke-width="1"/>
<rect x="467.60" y="525.10" width="19.78" height="13.86" fill="#45216d" stroke="none" stroke-width="1"/>
<rect x="487.38" y="525.10" width="19.78" height="13.86" fill="#22708d" stroke="none" stroke-width="1"/>
<rect x="507.16" y="525.10" width="19.78" height="13.86" fill="#441762" stroke="none" stroke-width="1"/>
<rect x="526.94" y="525.10" width="19.78" height="13.86" fill="#46297a" stroke="none" stroke-width="1"/>
<rect x="546.72" y="525.10" width="19.78" height="13.86" fill="#3f4a8a" stroke="none" stroke-width="1"/>
<rect x="566.50" y="525.10" width="19.78" height="13.86" fill="#089f73" stroke="none" stroke-width="1"/>
<rect x="586.28" y="525.10" width="19.78" height="13.86" fill="#46297a" stroke="none" stroke-width="1"/>
<rect x="606.06" y="525.10" width="19.78" height="13.86" fill="#0ea270" stroke="none" stroke-width="1"/>
<rect x="72.00" y="538.96" width="19.78" height="13.86" fill="#c3d73d" stroke="none" stroke-width="1"/>
<rect x="91.78" y="538.96" width="19.78" height="13.86" fill="#f0e428" stroke="none" stroke-width="1"/>
<rect x="111.56" y="538.96" width="19.78" height="13.86" fill="#0b9382" stroke="none" stroke-width="1"/>
<rect x="131.34" y="538.96" width="19.78" height="13.86" fill="#45216d" stroke="none" stroke-width="1"/>
<rect x="151.12" y="538.96" width="19.78" height="13.86" fill="#16a371" stroke="none" stroke-width="1"/>
<rect x="170.90" y="538.96" width="19.78" height="13.86" fill="#0a9681" stroke="none" stroke-width="1"/>
<rect x="190.68" y="538.96" width="19.78" height="13.86" fill="#0f7f8a" stroke="none" stroke-width="1"/>
<rect x="210.46" y="538.96" width="19.78" height="13.86" fill="#276c8e" stroke="none" stroke-width="1"/>
<rect x="230.24" y="538.96" width="19.78" height="13.86" fill="#463884" stroke="none" stroke-width="1"/>
<rect x="250.02" y="538.96" width="19.78" height="13.86" fill="#276c8e" stroke="none" stroke-width="1"/>
<rect x="269.80" y="538.96" width="19.78" height="13.86" fill="#6ab86a" stroke="none" stroke-width="1"/>
<rect x="289.58" y="538.96" width="19.78" height="13.86" fill="#3aac72" stroke="none" stroke-width="1"/>
<rect x="309.36" y="538.96" width="19.78" height="13.86" fill="#d0dc38" stroke="none" stroke-width="1"/>
<rect x="329.14" y="538.96" width="19.78" height="13.86" fill="#0a997d" stroke="none" stroke-width="1"/>
<rect x="348.92" y="538.96" width="19.78" height="13.86" fill="#089f73" stroke="none" stroke-width="1"/>
<rect x="368.70" y="538.96" width="19.78" height="13.86" fill="#127d8a" stroke="none" stroke-width="1"/>
<rect x="388.48" y="538.96" width="19.78" height="13.86" fill="#6ab86a" stroke="none" stroke-width="1"/>
<rect x="408.26" y="538.96" width="19.78" height="13.86" fill="#0f7f8a" stroke="none" stroke-width="1"/>
<rect x="428.04" y="538.96" width="19.78" height="13.86" fill="#5ab46d" stroke="none" stroke-width="1"/>
<rect x="447.82" y="538.96" width="19.78" height="13.86" fill="#d0dc38" stroke="none" stroke-width="1"/>
<rect x="467.60" y="538.96" width="19.78" height="13.86" fill="#07a070" stroke="none" stroke-width="1"/>
<rect x="487.38" y="538.96" width="19.78" height="13.86" fill="#6ab86a" stroke="none" stroke-width="1"/>
<rect x="507.16" y="538.96" width="19.78" height="13.86" fill="#0a9880" stroke="none" stroke-width="1"/>
<rect x="526.94" y="538.96" width="19.78" height="13.86" fill="#345f8f" stroke="none" stroke-width="1"/>
<rect x="546.72" y="538.96" width="19.78" height="13.86" fill="#44105a" stroke="none" stroke-width="1"/>
<rect x="566.50" y="538.96" width="19.78" height="13.86" fill="#0a9880" stroke="none" stroke-width="1"/>
<rect x="586.28" y="538.96" width="19.78" height="13.86" fill="#3a5890" stroke="none" stroke-width="1"/>
<rect x="606.06" y="538.96" width="19.78" height="13.86" fill="#443e86" stroke="none" stroke-width="1"/>
<rect x="72.00" y="552.82" width="19.78" height="13.86" fill="#07a070" stroke="none" stroke-width="1"/>
<rect x="91.78" y="552.82" width="19.78" height="13.86" fill="#d6de35" stroke="none" stroke-width="1"/>
<rect x="111.56" y="552.82" width="19.78" height="13.86" fill="#d6de35" stroke="none" stroke-width="1"/>
<rect x="131.34" y="552.82" width="19.78" height="13.86" fill="#0f7f8a" stroke="none" stroke-width="1"/>
<rect x="151.12" y="552.82" width="19.78" height="13.86" fill="#f2e529" stroke="none" stroke-width="1"/>
<rect x="170.90" y="552.82" width="19.78" height="13.86" fill="#0f7f8a" stroke="none" stroke-width="1"/>
<rect x="190.68" y="552.82" width="19.78" height="13.86" fill="#147b8b" stroke="none" stroke-width="1"/>
<rect x="210.46" y="552.82" width="19.78" height="13.86" fill="#2a6a8e" stroke="none" stroke-width="1"/>
<rect x="230.24" y="552.82" width="19.78" height="13.86" fill="#d0dc38" stroke="none" stroke-width="1"/>
<rect x="250.02" y="552.82" width="19.78" height="13.86" fill="#089f73" stroke="none" stroke-width="1"/>
<rect x="269.80" y="552.82" width="19.78" height="13.86" fill="#42ae71" stroke="none" stroke-width="1"/>
<rect x="289.58" y="552.82" width="19.78" height="13.86" fill="#52b26e" stroke="none" stroke-width="1"/>
<rect x="309.36" y="552.82" width="19.78" height="13.86" fill="#3b548e" stroke="none" stroke-width="1"/>
<rect x="329.14" y="552.82" width="19.78" height="13.86" fill="#46297a" stroke="none" stroke-width="1"/>
<rect x="348.92" y="552.82" width="19.78" height="13.86" fill="#3e4d8b" stroke="none" stroke-width="1"/>
<rect x="368.70" y="552.82" width="19.78" height="13.86" fill="#1da571" stroke="none" stroke-width="1"/>
<rect x="388.48" y="552.82" width="19.78" height="13.86" fill="#463280" stroke="none" stroke-width="1"/>
<rect x="408.26" y="552.82" width="19.78" height="13.86" fill="#6ab86a" stroke="none" stroke-width="1"/>
<rect x="428.04" y="552.82" width="19.78" height="13.86" fill="#6ab86a" stroke="none" stroke-width="1"/>
<rect x="447.82" y="552.82" width="19.78" height="13.86" fill="#eae22b" stroke="none" stroke-width="1"/>
<rect x="467.60" y="552.82" width="19.78" height="13.86" fill="#eae22b" stroke="none" stroke-width="1"/>
<rect x="487.38" y="552.82" width="19.78" height="13.86" fill="#a8cc46" stroke="none" stroke-width="1"/>
<rect x="507.16" y="552.82" width="19.78" height="13.86" fill="#2a6a8e" stroke="none" stroke-width="1"/>
<rect x="526.94" y="552.82" width="19.78" height="13.86" fill="#3a5890" stroke="none" stroke-width="1"/>
<rect x="546.72" y="552.82" width="19.78" height="13.86" fill="#451a65" stroke="none" stroke-width="1"/>
<rect x="566.50" y="552.82" width="19.78" height="13.86" fill="#3f4889" stroke="none" stroke-width="1"/>
<rect x="586.28" y="552.82" width="19.78" height="13.86" fill="#463280" stroke="none" stroke-width="1"/>
<rect x="606.06" y="552.82" width="19.78" height="13.86" fill="#127d8a" stroke="none" stroke-width="1"/>
<rect x="72.00" y="566.68" width="19.78" height="13.86" fill="#f2e529" stroke="none" stroke-width="1"/>
<rect x="91.78" y="566.68" width="19.78" height="13.86" fill="#94c450" stroke="none" stroke-width="1"/>
<rect x="111.56" y="566.68" width="19.78" height="13.86" fill="#3e4b8a" stroke="none" stroke-width="1"/>
<rect x="131.34" y="566.68" width="19.78" height="13.86" fill="#c3d73d" stroke="none" stroke-width="1"/>
<rect x="151.12" y="566.68" width="19.78" height="13.86" fill="#f2e529" stroke="none" stroke-width="1"/>
<rect x="170.90" y="566.68" width="19.78" height="13.86" fill="#0c8e85" stroke="none" stroke-width="1"/>
<rect x="190.68" y="566.68" width="19.78" height="13.86" fill="#d6de35" stroke="none" stroke-width="1"/>
<rect x="210.46" y="566.68" width="19.78" height="13.86" fill="#f2e529" stroke="none" stroke-width="1"/>
<rect x="230.24" y="566.68" width="19.78" height="13.86" fill="#22708d" stroke="none" stroke-width="1"/>
<rect x="250.02" y="566.68" width="19.78" height="13.86" fill="#276c8e" stroke="none" stroke-width="1"/>
<rect x="269.80" y="566.68" width="19.78" height="13.86" fill="#3a5890" stroke="none" stroke-width="1"/>
<rect x="289.58" y="566.68" width="19.78" height="13.86" fill="#404688" stroke="none" stroke-width="1"/>
<rect x="309.36" y="566.68" width="19.78" height="13.86" fill="#424086" stroke="none" stroke-width="1"/>
<rect x="329.14" y="566.68" width="19.78" height="13.86" fill="#0f7f8a" stroke="none" stroke-width="1"/>
<rect x="348.92" y="566.68" width="19.78" height="13.86" fill="#0a9681" stroke="none" stroke-width="1"/>
<rect x="368.70" y="566.68" width="19.78" height="13.86" fill="#127d8a" stroke="none" stroke-width="1"/>
<rect x="388.48" y="566.68" width="19.78" height="13.86" fill="#0ea270" stroke="none" stroke-width="1"/>
<rect x="408.26" y="566.68" width="19.78" height="13.86" fill="#afcf44" stroke="none" stroke-width="1"/>
<rect x="428.04" y="566.68" width="19.78" height="13.86" fill="#0ea270" stroke="none" stroke-width="1"/>
<rect x="447.82" y="566.68" width="19.78" height="13.86" fill="#0ea270" stroke="none" stroke-width="1"/>
<rect x="467.60" y="566.68" width="19.78" height="13.86" fill="#451e69" stroke="none" stroke-width="1"/>
<rect x="487.38" y="566.68" width="19.78" height="13.86" fill="#463582" stroke="none" stroke-width="1"/>
<rect x="507.16" y="566.68" width="19.78" height="13.86" fill="#089c78" stroke="none" stroke-width="1"/>
<rect x="526.94" y="566.68" width="19.78" height="13.86" fill="#52b26e" stroke="none" stroke-width="1"/>
<rect x="546.72" y="566.68" width="19.78" height="13.86" fill="#a8cc46" stroke="none" stroke-width="1"/>
<rect x="566.50" y="566.68" width="19.78" height="13.86" fill="#451a65" stroke="none" stroke-width="1"/>
<rect x="586.28" y="566.68" width="19.78" height="13.86" fill="#30638f" stroke="none" stroke-width="1"/>
<rect x="606.06" y="566.68" width="19.78" height="13.86" fill="#3d4f8c" stroke="none" stroke-width="1"/>
<rect x="72.00" y="580.54" width="19.78" height="13.86" fill="#52b26e" stroke="none" stroke-width="1"/>
<rect x="91.78" y="580.54" width="19.78" height="13.86" fill="#d6de35" stroke="none" stroke-width="1"/>
<rect x="111.56" y="580.54" width="19.78" height="13.86" fill="#e3e12e" stroke="none" stroke-width="1"/>
<rect x="131.34" y="580.54" width="19.78" height="13.86" fill="#1c758c" stroke="none" stroke-width="1"/>
<rect x="151.12" y="580.54" width="19.78" height="13.86" fill="#2c688e" stroke="none" stroke-width="1"/>
<rect x="170.90" y="580.54" width="19.78" height="13.86" fill="#c3d73d" stroke="none" stroke-width="1"/>
<rect x="190.68" y="580.54" width="19.78" height="13.86" fill="#16a371" stroke="none" stroke-width="1"/>
<rect x="210.46" y="580.54" width="19.78" height="13.86" fill="#414387" stroke="none" stroke-width="1"/>
<rect x="230.24" y="580.54" width="19.78" height="13.86" fill="#0ea270" stroke="none" stroke-width="1"/>
<rect x="250.02" y="580.54" width="19.78" height="13.86" fill="#385a90" stroke="none" stroke-width="1"/>
<rect x="269.80" y="580.54" width="19.78" height="13.86" fill="#b5d141" stroke="none" stroke-width="1"/>
<rect x="289.58" y="580.54" width="19.78" height="13.86" fill="#f0e428" stroke="none" stroke-width="1"/>
<rect x="309.36" y="580.54" width="19.78" height="13.86" fill="#94c450" stroke="none" stroke-width="1"/>
<rect x="329.14" y="580.54" width="19.78" height="13.86" fill="#451e69" stroke="none" stroke-width="1"/>
<rect x="348.92" y="580.54" width="19.78" height="13.86" fill="#089f73" stroke="none" stroke-width="1"/>
<rect x="368.70" y="580.54" width="19.78" height="13.86" fill="#0c8e85" stroke="none" stroke-width="1"/>
<rect x="388.48" y="580.54" width="19.78" height="13.86" fill="#afcf44" stroke="none" stroke-width="1"/>
<rect x="408.26" y="580.54" width="19.78" height="13.86" fill="#462f7e" stroke="none" stroke-width="1"/>
<rect x="428.04" y="580.54" width="19.78" height="13.86" fill="#453b85" stroke="none" stroke-width="1"/>
<rect x="447.82" y="580.54" width="19.78" height="13.86" fill="#2a6a8e" stroke="none" stroke-width="1"/>
<rect x="467.60" y="580.54" width="19.78" height="13.86" fill="#0f7f8a" stroke="none" stroke-width="1"/>
<rect x="487.38" y="580.54" width="19.78" height="13.86" fill="#2a6a8e" stroke="none" stroke-width="1"/>
<rect x="507.16" y="580.54" width="19.78" height="13.86" fill="#3e4d8b" stroke="none" stroke-width="1"/>
<rect x="526.94" y="580.54" width="19.78" height="13.86" fill="#0f7f8a" stroke="none" stroke-width="1"/>
<rect x="546.72" y="580.54" width="19.78" height="13.86" fill="#3e4d8b" stroke="none" stroke-width="1"/>
<rect x="566.50" y="580.54" width="19.78" height="13.86" fill="#0ea270" stroke="none" stroke-width="1"/>
<rect x="586.28" y="580.54" width="19.78" height="13.86" fill="#089f73" stroke="none" stroke-width="1"/>
<rect x="606.06" y="580.54" width="19.78" height="13.86" fill="#0f7f8a" stroke="none" stroke-width="1"/>
<rect x="72.00" y="594.40" width="19.78" height="13.86" fill="#8dc254" stroke="none" stroke-width="1"/>
<rect x="91.78" y="594.40" width="19.78" height="13.86" fill="#f2e529" stroke="none" stroke-width="1"/>
<rect x="111.56" y="594.40" width="19.78" height="13.86" fill="#0a9880" stroke="none" stroke-width="1"/>
<rect x="131.34" y="594.40" width="19.78" height="13.86" fill="#2ba971" stroke="none" stroke-width="1"/>
<rect x="151.12" y="594.40" width="19.78" height="13.86" fill="#f2e529" stroke="none" stroke-width="1"/>
<rect x="170.90" y="594.40" width="19.78" height="13.86" fill="#0a997d" stroke="none" stroke-width="1"/>
<rect x="190.68" y="594.40" width="19.78" height="13.86" fill="#0a9681" stroke="none" stroke-width="1"/>
<rect x="210.46" y="594.40" width="19.78" height="13.86" fill="#d0dc38" stroke="none" stroke-width="1"/>
<rect x="230.24" y="594.40" width="19.78" height="13.86" fill="#463582" stroke="none" stroke-width="1"/>
<rect x="250.02" y="594.40" width="19.78" height="13.86" fill="#5ab46d" stroke="none" stroke-width="1"/>
<rect x="269.80" y="594.40" width="19.78" height="13.86" fill="#451e69" stroke="none" stroke-width="1"/>
<rect x="289.58" y="594.40" width="19.78" height="13.86" fill="#3e4d8b" stroke="none" stroke-width="1"/>
<rect x="309.36" y="594.40" width="19.78" height="13.86" fill="#3e4b8a" stroke="none" stroke-width="1"/>
<rect x="329.14" y="594.40" width="19.78" height="13.86" fill="#a8cc46" stroke="none" stroke-width="1"/>
<rect x="348.92" y="594.40" width="19.78" height="13.86" fill="#0ea270" stroke="none" stroke-width="1"/>
<rect x="368.70" y="594.40" width="19.78" height="13.86" fill="#6ab86a" stroke="none" stroke-width="1"/>
<rect x="388.48" y="594.40" width="19.78" height="13.86" fill="#2c688e" stroke="none" stroke-width="1"/>
<rect x="408.26" y="594.40" width="19.78" height="13.86" fill="#3aac72" stroke="none" stroke-width="1"/>
<rect x="428.04" y="594.40" width="19.78" height="13.86" fill="#2a6a8e" stroke="none" stroke-width="1"/>
<rect x="447.82" y="594.40" width="19.78" height="13.86" fill="#2a6a8e" stroke="none" stroke-width="1"/>
<rect x="467.60" y="594.40" width="19.78" height="13.86" fill="#0a9681" stroke="none" stroke-width="1"/>
<rect x="487.38" y="594.40" width="19.78" height="13.86" fill="#0a9880" stroke="none" stroke-width="1"/>
<rect x="507.16" y="594.40" width="19.78" height="13.86" fill="#0c8c86" stroke="none" stroke-width="1"/>
<rect x="526.94" y="594.40" width="19.78" height="13.86" fill="#0c8c86" stroke="none" stroke-width="1"/>
<rect x="546.72" y="594.40" width="19.78" height="13.86" fill="#463582" stroke="none" stroke-width="1"/>
<rect x="566.50" y="594.40" width="19.78" height="13.86" fill="#3e4b8a" stroke="none" stroke-width="1"/>
<rect x="586.28" y="594.40" width="19.78" height="13.86" fill="#33aa72" stroke="none" stroke-width="1"/>
<rect x="606.06" y="594.40" width="19.78" height="13.86" fill="#443e86" stroke="none" stroke-width="1"/>
<rect x="72.00" y="608.26" width="19.78" height="13.86" fill="#424086" stroke="none" stroke-width="1"/>
<rect x="91.78" y="608.26" width="19.78" height="13.86" fill="#0ea270" stroke="none" stroke-width="1"/>
<rect x="111.56" y="608.26" width="19.78" height="13.86" fill="#d6de35" stroke="none" stroke-width="1"/>
<rect x="131.34" y="608.26" width="19.78" height="13.86" fill="#2c688e" stroke="none" stroke-width="1"/>
<rect x="151.12" y="608.26" width="19.78" height="13.86" fill="#1c758c" stroke="none" stroke-width="1"/>
<rect x="170.90" y="608.26" width="19.78" height="13.86" fill="#441762" stroke="none" stroke-width="1"/>
<rect x="190.68" y="608.26" width="19.78" height="13.86" fill="#c3d73d" stroke="none" stroke-width="1"/>
<rect x="210.46" y="608.26" width="19.78" height="13.86" fill="#2a6a8e" stroke="none" stroke-width="1"/>
<rect x="230.24" y="608.26" width="19.78" height="13.86" fill="#127d8a" stroke="none" stroke-width="1"/>
<rect x="250.02" y="608.26" width="19.78" height="13.86" fill="#089f73" stroke="none" stroke-width="1"/>
<rect x="269.80" y="608.26" width="19.78" height="13.86" fill="#256e8d" stroke="none" stroke-width="1"/>
<rect x="289.58" y="608.26" width="19.78" height="13.86" fill="#b5d141" stroke="none" stroke-width="1"/>
<rect x="309.36" y="608.26" width="19.78" height="13.86" fill="#6ab86a" stroke="none" stroke-width="1"/>
<rect x="329.14" y="608.26" width="19.78" height="13.86" fill="#276c8e" stroke="none" stroke-width="1"/>
<rect x="348.92" y="608.26" width="19.78" height="13.86" fill="#0ea270" stroke="none" stroke-width="1"/>
<rect x="368.70" y="608.26" width="19.78" height="13.86" fill="#462f7e" stroke="none" stroke-width="1"/>
<rect x="388.48" y="608.26" width="19.78" height="13.86" fill="#d0dc38" stroke="none" stroke-width="1"/>
<rect x="408.26" y="608.26" width="19.78" height="13.86" fill="#127d8a" stroke="none" stroke-width="1"/>
<rect x="428.04" y="608.26" width="19.78" height="13.86" fill="#463582" stroke="none" stroke-width="1"/>
<rect x="447.82" y="608.26" width="19.78" height="13.86" fill="#07a070" stroke="none" stroke-width="1"/>
<rect x="467.60" y="608.26" width="19.78" height="13.86" fill="#0a997d" stroke="none" stroke-width="1"/>
<rect x="487.38" y="608.26" width="19.78" height="13.86" fill="#d0dc38" stroke="none" stroke-width="1"/>
<rect x="507.16" y="608.26" width="19.78" height="13.86" fill="#3f4889" stroke="none" stroke-width="1"/>
<rect x="526.94" y="608.26" width="19.78" height="13.86" fill="#0c8c86" stroke="none" stroke-width="1"/>
<rect x="546.72" y="608.26" width="19.78" height="13.86" fill="#8dc254" stroke="none" stroke-width="1"/>
<rect x="566.50" y="608.26" width="19.78" height="13.86" fill="#33aa72" stroke="none" stroke-width="1"/>
<rect x="586.28" y="608.26" width="19.78" height="13.86" fill="#462f7e" stroke="none" stroke-width="1"/>
<rect x="606.06" y="608.26" width="19.78" height="13.86" fill="#2c688e" stroke="none" stroke-width="1"/>
<rect x="72.00" y="622.12" width="19.78" height="13.86" fill="#a8cc46" stroke="none" stroke-width="1"/>
<rect x="91.78" y="622.12" width="19.78" height="13.86" fill="#0c8c86" stroke="none" stroke-width="1"/>
<rect x="111.56" y="622.12" width="19.78" height="13.86" fill="#5ab46d" stroke="none" stroke-width="1"/>
<rect x="131.34" y="622.12" width="19.78" height="13.86" fill="#2ba971" stroke="none" stroke-width="1"/>
<rect x="151.12" y="622.12" width="19.78" height="13.86" fill="#33aa72" stroke="none" stroke-width="1"/>
<rect x="170.90" y="622.12" width="19.78" height="13.86" fill="#4ab06f" stroke="none" stroke-width="1"/>
<rect x="190.68" y="622.12" width="19.78" height="13.86" fill="#0ea270" stroke="none" stroke-width="1"/>
<rect x="210.46" y="622.12" width="19.78" height="13.86" fill="#0a9681" stroke="none" stroke-width="1"/>
<rect x="230.24" y="622.12" width="19.78" height="13.86" fill="#0c8e85" stroke="none" stroke-width="1"/>
<rect x="250.02" y="622.12" width="19.78" height="13.86" fill="#0f7f8a" stroke="none" stroke-width="1"/>
<rect x="269.80" y="622.12" width="19.78" height="13.86" fill="#6ab86a" stroke="none" stroke-width="1"/>
<rect x="289.58" y="622.12" width="19.78" height="13.86" fill="#5ab46d" stroke="none" stroke-width="1"/>
<rect x="309.36" y="622.12" width="19.78" height="13.86" fill="#46297a" stroke="none" stroke-width="1"/>
<rect x="329.14" y="622.12" width="19.78" height="13.86" fill="#0a997d" stroke="none" stroke-width="1"/>
<rect x="348.92" y="622.12" width="19.78" height="13.86" fill="#2c688e" stroke="none" stroke-width="1"/>
<rect x="368.70" y="622.12" width="19.78" height="13.86" fill="#2a6a8e" stroke="none" stroke-width="1"/>
<rect x="388.48" y="622.12" width="19.78" height="13.86" fill="#2a6a8e" stroke="none" stroke-width="1"/>
<rect x="408.26" y="622.12" width="19.78" height="13.86" fill="#3e4b8a" stroke="none" stroke-width="1"/>
<rect x="428.04" y="622.12" width="19.78" height="13.86" fill="#2c688e" stroke="none" stroke-width="1"/>
<rect x="447.82" y="622.12" width="19.78" height="13.86" fill="#2c688e" stroke="none" stroke-width="1"/>
<rect x="467.60" y="622.12" width="19.78" height="13.86" fill="#3d4f8c" stroke="none" stroke-width="1"/>
<rect x="487.38" y="622.12" width="19.78" height="13.86" fill="#22708d" stroke="none" stroke-width="1"/>
<rect x="507.16" y="622.12" width="19.78" height="13.86" fill="#16a371" stroke="none" stroke-width="1"/>
<rect x="526.94" y="622.12" width="19.78" height="13.86" fill="#463582" stroke="none" stroke-width="1"/>
<rect x="546.72" y="622.12" width="19.78" height="13.86" fill="#16a371" stroke="none" stroke-width="1"/>
<rect x="566.50" y="622.12" width="19.78" height="13.86" fill="#463582" stroke="none" stroke-width="1"/>
<rect x="586.28" y="622.12" width="19.78" height="13.86" fill="#86c059" stroke="none" stroke-width="1"/>
<rect x="606.06" y="622.12" width="19.78" height="13.86" fill="#463582" stroke="none" stroke-width="1"/>
<rect x="72.00" y="635.98" width="19.78" height="13.86" fill="#f2e529" stroke="none" stroke-width="1"/>
<rect x="91.78" y="635.98" width="19.78" height="13.86" fill="#e3e12e" stroke="none" stroke-width="1"/>
<rect x="111.56" y="635.98" width="19.78" height="13.86" fill="#d6de35" stroke="none" stroke-width="1"/>
<rect x="131.34" y="635.98" width="19.78" height="13.86" fill="#147b8b" stroke="none" stroke-width="1"/>
<rect x="151.12" y="635.98" width="19.78" height="13.86" fill="#3b548e" stroke="none" stroke-width="1"/>
<rect x="170.90" y="635.98" width="19.78" height="13.86" fill="#147b8b" stroke="none" stroke-width="1"/>
<rect x="190.68" y="635.98" width="19.78" height="13.86" fill="#6ab86a" stroke="none" stroke-width="1"/>
<rect x="210.46" y="635.98" width="19.78" height="13.86" fill="#385a90" stroke="none" stroke-width="1"/>
<rect x="230.24" y="635.98" width="19.78" height="13.86" fill="#d0dc38" stroke="none" stroke-width="1"/>
<rect x="250.02" y="635.98" width="19.78" height="13.86" fill="#8dc254" stroke="none" stroke-width="1"/>
<rect x="269.80" y="635.98" width="19.78" height="13.86" fill="#0a997d" stroke="none" stroke-width="1"/>
<rect x="289.58" y="635.98" width="19.78" height="13.86" fill="#3b548e" stroke="none" stroke-width="1"/>
<rect x="309.36" y="635.98" width="19.78" height="13.86" fill="#2a6a8e" stroke="none" stroke-width="1"/>
<rect x="329.14" y="635.98" width="19.78" height="13.86" fill="#46297a" stroke="none" stroke-width="1"/>
<rect x="348.92" y="635.98" width="19.78" height="13.86" fill="#d0dc38" stroke="none" stroke-width="1"/>
<rect x="368.70" y="635.98" width="19.78" height="13.86" fill="#385a90" stroke="none" stroke-width="1"/>
<rect x="388.48" y="635.98" width="19.78" height="13.86" fill="#0f7f8a" stroke="none" stroke-width="1"/>
<rect x="408.26" y="635.98" width="19.78" height="13.86" fill="#424086" stroke="none" stroke-width="1"/>
<rect x="428.04" y="635.98" width="19.78" height="13.86" fill="#3e4d8b" stroke="none" stroke-width="1"/>
<rect x="447.82" y="635.98" width="19.78" height="13.86" fill="#462f7e" stroke="none" stroke-width="1"/>
<rect x="467.60" y="635.98" width="19.78" height="13.86" fill="#0ea270" stroke="none" stroke-width="1"/>
<rect x="487.38" y="635.98" width="19.78" height="13.86" fill="#463582" stroke="none" stroke-width="1"/>
<rect x="507.16" y="635.98" width="19.78" height="13.86" fill="#147b8b" stroke="none" stroke-width="1"/>
<rect x="526.94" y="635.98" width="19.78" height="13.86" fill="#22708d" stroke="none" stroke-width="1"/>
<rect x="546.72" y="635.98" width="19.78" height="13.86" fill="#6ab86a" stroke="none" stroke-width="1"/>
<rect x="566.50" y="635.98" width="19.78" height="13.86" fill="#451a65" stroke="none" stroke-width="1"/>
<rect x="586.28" y="635.98" width="19.78" height="13.86" fill="#46297a" stroke="none" stroke-width="1"/>
<rect x="606.06" y="635.98" width="19.78" height="13.86" fill="#127d8a" stroke="none" stroke-width="1"/>
<rect x="72.00" y="649.84" width="19.78" height="13.86" fill="#5ab46d" stroke="none" stroke-width="1"/>
<rect x="91.78" y="649.84" width="19.78" height="13.86" fill="#462f7e" stroke="none" stroke-width="1"/>
<rect x="111.56" y="649.84" width="19.78" height="13.86" fill="#1da571" stroke="none" stroke-width="1"/>
<rect x="131.34" y="649.84" width="19.78" height="13.86" fill="#a8cc46" stroke="none" stroke-width="1"/>
<rect x="151.12" y="649.84" width="19.78" height="13.86" fill="#f0e428" stroke="none" stroke-width="1"/>
<rect x="170.90" y="649.84" width="19.78" height="13.86" fill="#276c8e" stroke="none" stroke-width="1"/>
<rect x="190.68" y="649.84" width="19.78" height="13.86" fill="#71ba66" stroke="none" stroke-width="1"/>
<rect x="210.46" y="649.84" width="19.78" height="13.86" fill="#2a6a8e" stroke="none" stroke-width="1"/>
<rect x="230.24" y="649.84" width="19.78" height="13.86" fill="#089f73" stroke="none" stroke-width="1"/>
<rect x="250.02" y="649.84" width="19.78" height="13.86" fill="#3e4b8a" stroke="none" stroke-width="1"/>
<rect x="269.80" y="649.84" width="19.78" height="13.86" fill="#07a070" stroke="none" stroke-width="1"/>
<rect x="289.58" y="649.84" width="19.78" height="13.86" fill="#5ab46d" stroke="none" stroke-width="1"/>
<rect x="309.36" y="649.84" width="19.78" height="13.86" fill="#2c688e" stroke="none" stroke-width="1"/>
<rect x="329.14" y="649.84" width="19.78" height="13.86" fill="#86c059" stroke="none" stroke-width="1"/>
<rect x="348.92" y="649.84" width="19.78" height="13.86" fill="#3d4f8c" stroke="none" stroke-width="1"/>
<rect x="368.70" y="649.84" width="19.78" height="13.86" fill="#eae22b" stroke="none" stroke-width="1"/>
<rect x="388.48" y="649.84" width="19.78" height="13.86" fill="#451e69" stroke="none" stroke-width="1"/>
<rect x="408.26" y="649.84" width="19.78" height="13.86" fill="#45216d" stroke="none" stroke-width="1"/>
<rect x="428.04" y="649.84" width="19.78" height="13.86" fill="#0c8c86" stroke="none" stroke-width="1"/>
<rect x="447.82" y="649.84" width="19.78" height="13.86" fill="#345f8f" stroke="none" stroke-width="1"/>
<rect x="467.60" y="649.84" width="19.78" height="13.86" fill="#1da571" stroke="none" stroke-width="1"/>
<rect x="487.38" y="649.84" width="19.78" height="13.86" fill="#463280" stroke="none" stroke-width="1"/>
<rect x="507.16" y="649.84" width="19.78" height="13.86" fill="#6ab86a" stroke="none" stroke-width="1"/>
<rect x="526.94" y="649.84" width="19.78" height="13.86" fill="#463280" stroke="none" stroke-width="1"/>
<rect x="546.72" y="649.84" width="19.78" height="13.86" fill="#3a5890" stroke="none" stroke-width="1"/>
<rect x="566.50" y="649.84" width="19.78" height="13.86" fill="#0ea270" stroke="none" stroke-width="1"/>
<rect x="586.28" y="649.84" width="19.78" height="13.86" fill="#443e86" stroke="none" stroke-width="1"/>
<rect x="606.06" y="649.84" width="19.78" height="13.86" fill="#451a65" stroke="none" stroke-width="1"/>
<line x1="91.78" y1="455.80" x2="91.78" y2="663.70" stroke="#fff" stroke-width="1"/>
<line x1="111.56" y1="455.80" x2="111.56" y2="663.70" stroke="#fff" stroke-width="1"/>
<line x1="131.34" y1="455.80" x2="131.34" y2="663.70" stroke="#fff" stroke-width="1"/>
<line x1="151.12" y1="455.80" x2="151.12" y2="663.70" stroke="#fff" stroke-width="1"/>
<line x1="170.90" y1="455.80" x2="170.90" y2="663.70" stroke="#fff" stroke-width="1"/>
<line x1="190.68" y1="455.80" x2="190.68" y2="663.70" stroke="#fff" stroke-width="1"/>
<line x1="210.46" y1="455.80" x2="210.46" y2="663.70" stroke="#fff" stroke-width="1"/>
<line x1="230.24" y1="455.80" x2="230.24" y2="663.70" stroke="#fff" stroke-width="1"/>
<line x1="250.02" y1="455.80" x2="250.02" y2="663.70" stroke="#fff" stroke-width="1"/>
<line x1="269.80" y1="455.80" x2="269.80" y2="663.70" stroke="#fff" stroke-width="1"/>
<line x1="289.58" y1="455.80" x2="289.58" y2="663.70" stroke="#fff" stroke-width="1"/>
<line x1="309.36" y1="455.80" x2="309.36" y2="663.70" stroke="#fff" stroke-width="1"/>
<line x1="329.14" y1="455.80" x2="329.14" y2="663.70" stroke="#fff" stroke-width="1"/>
<line x1="348.92" y1="455.80" x2="348.92" y2="663.70" stroke="#fff" stroke-width="1"/>
<line x1="368.70" y1="455.80" x2="368.70" y2="663.70" stroke="#fff" stroke-width="1"/>
<line x1="388.48" y1="455.80" x2="388.48" y2="663.70" stroke="#fff" stroke-width="1"/>
<line x1="408.26" y1="455.80" x2="408.26" y2="663.70" stroke="#fff" stroke-width="1"/>
<line x1="428.04" y1="455.80" x2="428.04" y2="663.70" stroke="#fff" stroke-width="1"/>
<line x1="447.82" y1="455.80" x2="447.82" y2="663.70" stroke="#fff" stroke-width="1"/>
<line x1="467.60" y1="455.80" x2="467.60" y2="663.70" stroke="#fff" stroke-width="1"/>
<line x1="487.38" y1="455.80" x2="487.38" y2="663.70" stroke="#fff" stroke-width="1"/>
<line x1="507.16" y1="455.80" x2="507.16" y2="663.70" stroke="#fff" stroke-width="1"/>
<line x1="526.94" y1="455.80" x2="526.94" y2="663.70" stroke="#fff" stroke-width="1"/>
<line x1="546.72" y1="455.80" x2="546.72" y2="663.70" stroke="#fff" stroke-width="1"/>
<line x1="566.50" y1="455.80" x2="566.50" y2="663.70" stroke="#fff" stroke-width="1"/>
<line x1="586.28" y1="455.80" x2="586.28" y2="663.70" stroke="#fff" stroke-width="1"/>
<line x1="606.06" y1="455.80" x2="606.06" y2="663.70" stroke="#fff" stroke-width="1"/>
<line x1="72.00" y1="469.66" x2="625.84" y2="469.66" stroke="#fff" stroke-width="1"/>
<line x1="72.00" y1="483.52" x2="625.84" y2="483.52" stroke="#fff" stroke-width="1"/>
<line x1="72.00" y1="497.38" x2="625.84" y2="497.38" stroke="#fff" stroke-width="1"/>
<line x1="72.00" y1="511.24" x2="625.84" y2="511.24" stroke="#fff" stroke-width="1"/>
<line x1="72.00" y1="525.10" x2="625.84" y2="525.10" stroke="#fff" stroke-width="1"/>
<line x1="72.00" y1="538.96" x2="625.84" y2="538.96" stroke="#fff" stroke-width="1"/>
<line x1="72.00" y1="552.82" x2="625.84" y2="552.82" stroke="#fff" stroke-width="1"/>
<line x1="72.00" y1="566.68" x2="625.84" y2="566.68" stroke="#fff" stroke-width="1"/>
<line x1="72.00" y1="580.54" x2="625.84" y2="580.54" stroke="#fff" stroke-width="1"/>
<line x1="72.00" y1="594.40" x2="625.84" y2="594.40" stroke="#fff" stroke-width="1"/>
<line x1="72.00" y1="608.26" x2="625.84" y2="608.26" stroke="#fff" stroke-width="1"/>
<line x1="72.00" y1="622.12" x2="625.84" y2="622.12" stroke="#fff" stroke-width="1"/>
<line x1="72.00" y1="635.98" x2="625.84" y2="635.98" stroke="#fff" stroke-width="1"/>
<line x1="72.00" y1="649.84" x2="625.84" y2="649.84" stroke="#fff" stroke-width="1"/>
<line x1="67.40" y1="462.73" x2="71.80" y2="462.73" stroke="#000" stroke-width="1"/>
<text x="62.50" y="466.13" font-size="9.5" text-anchor="end" fill="#111111" stroke="#111111" stroke-width="0.12">lipid</text>
<line x1="67.40" y1="476.59" x2="71.80" y2="476.59" stroke="#000" stroke-width="1"/>
<text x="62.50" y="479.99" font-size="9.5" text-anchor="end" fill="#111111" stroke="#111111" stroke-width="0.12">PEG</text>
<line x1="67.40" y1="490.45" x2="71.80" y2="490.45" stroke="#000" stroke-width="1"/>
<text x="62.50" y="493.85" font-size="9.5" text-anchor="end" fill="#111111" stroke="#111111" stroke-width="0.12">PEG x lipid</text>
<line x1="67.40" y1="504.31" x2="71.80" y2="504.31" stroke="#000" stroke-width="1"/>
<text x="62.50" y="507.71" font-size="9.5" text-anchor="end" fill="#111111" stroke="#111111" stroke-width="0.12">K</text>
<line x1="67.40" y1="518.17" x2="71.80" y2="518.17" stroke="#000" stroke-width="1"/>
<text x="62.50" y="521.57" font-size="9.5" text-anchor="end" fill="#111111" stroke="#111111" stroke-width="0.12">K x PEG</text>
<line x1="67.40" y1="532.03" x2="71.80" y2="532.03" stroke="#000" stroke-width="1"/>
<text x="62.50" y="535.43" font-size="9.5" text-anchor="end" fill="#111111" stroke="#111111" stroke-width="0.12">SecYE x lipid</text>
<line x1="67.40" y1="545.89" x2="71.80" y2="545.89" stroke="#000" stroke-width="1"/>
<text x="62.50" y="549.29" font-size="9.5" text-anchor="end" fill="#111111" stroke="#111111" stroke-width="0.12">Mg</text>
<line x1="67.40" y1="559.75" x2="71.80" y2="559.75" stroke="#000" stroke-width="1"/>
<text x="62.50" y="563.15" font-size="9.5" text-anchor="end" fill="#111111" stroke="#111111" stroke-width="0.12">SecYE</text>
<line x1="67.40" y1="573.61" x2="71.80" y2="573.61" stroke="#000" stroke-width="1"/>
<text x="62.50" y="577.01" font-size="9.5" text-anchor="end" fill="#111111" stroke="#111111" stroke-width="0.12">Mg x K</text>
<line x1="67.40" y1="587.47" x2="71.80" y2="587.47" stroke="#000" stroke-width="1"/>
<text x="62.50" y="590.87" font-size="9.5" text-anchor="end" fill="#111111" stroke="#111111" stroke-width="0.12">Mg x SecYE</text>
<line x1="67.40" y1="601.33" x2="71.80" y2="601.33" stroke="#000" stroke-width="1"/>
<text x="62.50" y="604.73" font-size="9.5" text-anchor="end" fill="#111111" stroke="#111111" stroke-width="0.12">Mg x PEG</text>
<line x1="67.40" y1="615.19" x2="71.80" y2="615.19" stroke="#000" stroke-width="1"/>
<text x="62.50" y="618.59" font-size="9.5" text-anchor="end" fill="#111111" stroke="#111111" stroke-width="0.12">SecYE x K</text>
<line x1="67.40" y1="629.05" x2="71.80" y2="629.05" stroke="#000" stroke-width="1"/>
<text x="62.50" y="632.45" font-size="9.5" text-anchor="end" fill="#111111" stroke="#111111" stroke-width="0.12">Mg x lipid</text>
<line x1="67.40" y1="642.91" x2="71.80" y2="642.91" stroke="#000" stroke-width="1"/>
<text x="62.50" y="646.31" font-size="9.5" text-anchor="end" fill="#111111" stroke="#111111" stroke-width="0.12">SecYE x PEG</text>
<line x1="67.40" y1="656.77" x2="71.80" y2="656.77" stroke="#000" stroke-width="1"/>
<text x="62.50" y="660.17" font-size="9.5" text-anchor="end" fill="#111111" stroke="#111111" stroke-width="0.12">K x lipid</text>
<rect x="208.76" y="481.92" width="23.18" height="17.06" rx="2.8" fill="none" stroke="#1a9bd7" stroke-width="2.9"/>
<rect x="188.98" y="565.08" width="23.18" height="17.06" rx="2.8" fill="none" stroke="#e8293a" stroke-width="2.9"/>
<defs><linearGradient id="gE" x1="0" y1="1" x2="0" y2="0"><stop offset="0.00" stop-color="#f5e62a"/><stop offset="0.05" stop-color="#e3e12e"/><stop offset="0.10" stop-color="#c3d73d"/><stop offset="0.15" stop-color="#a3ca48"/><stop offset="0.20" stop-color="#86c059"/><stop offset="0.25" stop-color="#62b66b"/><stop offset="0.30" stop-color="#3aac72"/><stop offset="0.35" stop-color="#16a371"/><stop offset="0.40" stop-color="#089c78"/><stop offset="0.45" stop-color="#0b9382"/><stop offset="0.50" stop-color="#0e8688"/><stop offset="0.55" stop-color="#17798b"/><stop offset="0.60" stop-color="#256e8d"/><stop offset="0.65" stop-color="#30638f"/><stop offset="0.70" stop-color="#3a5890"/><stop offset="0.75" stop-color="#3d4f8c"/><stop offset="0.80" stop-color="#404688"/><stop offset="0.85" stop-color="#463884"/><stop offset="0.90" stop-color="#46297a"/><stop offset="0.95" stop-color="#451a65"/><stop offset="1.00" stop-color="#440d56"/></linearGradient></defs>
<rect x="633.00" y="455.90" width="7.00" height="209.10" fill="url(#gE)" stroke="none" stroke-width="1"/>
<line x1="640.00" y1="623.00" x2="644.00" y2="623.00" stroke="#000" stroke-width="1"/>
<text x="649.50" y="626.60" font-size="9.9" text-anchor="start" fill="#111111" stroke="#111111" stroke-width="0.12">0.2</text>
<line x1="640.00" y1="581.00" x2="644.00" y2="581.00" stroke="#000" stroke-width="1"/>
<text x="649.50" y="584.60" font-size="9.9" text-anchor="start" fill="#111111" stroke="#111111" stroke-width="0.12">0.4</text>
<line x1="640.00" y1="539.00" x2="644.00" y2="539.00" stroke="#000" stroke-width="1"/>
<text x="649.50" y="542.60" font-size="9.9" text-anchor="start" fill="#111111" stroke="#111111" stroke-width="0.12">0.6</text>
<line x1="640.00" y1="497.00" x2="644.00" y2="497.00" stroke="#000" stroke-width="1"/>
<text x="649.50" y="500.60" font-size="9.9" text-anchor="start" fill="#111111" stroke="#111111" stroke-width="0.12">0.8</text>
<text x="665.60" y="560.60" font-size="9.8" text-anchor="middle" fill="#111111" stroke="#111111" stroke-width="0.12" transform="rotate(90 665.6 560.6)">Significance of coefficient</text>
</svg>
</body></html>
